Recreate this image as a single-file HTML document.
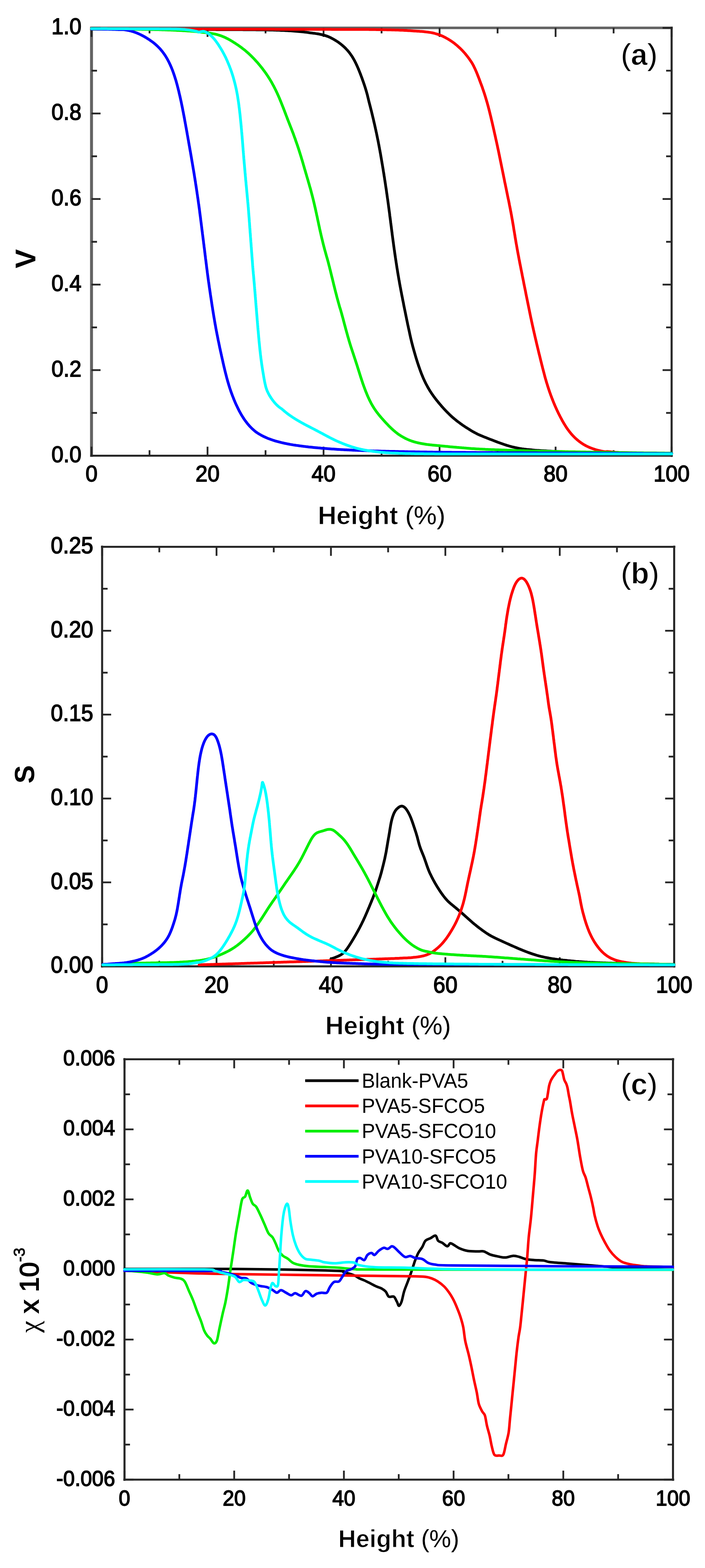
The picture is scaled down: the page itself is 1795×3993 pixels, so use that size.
<!DOCTYPE html>
<html><head><meta charset="utf-8"><style>
html,body{margin:0;padding:0;background:#fff;width:1795px;height:3993px;overflow:hidden}
svg{display:block}
.t{font-family:"Liberation Sans",Arial,sans-serif;font-weight:bold;fill:#000}
.d{font-family:"Liberation Sans",Arial,sans-serif;fill:#000;stroke:#000;stroke-width:2px}
.r{font-family:"Liberation Sans",Arial,sans-serif;fill:#000}
</style></head><body>
<svg width="1795" height="3993" viewBox="0 0 1795 3993">
<rect width="1795" height="3993" fill="#fff"/>
<path d="M233 68V1163.5" stroke="#636363" stroke-width="7.5"/>
<path d="M230 71H1713" stroke="#636363" stroke-width="6.5"/>
<path d="M1710 68V1163.5" stroke="#262626" stroke-width="5.2"/>
<path d="M230 1160.5H1713" stroke="#262626" stroke-width="5.2"/>
<path d="M233.0 1160.5v-23M233.0 71v23M380.7 1160.5v-14M380.7 71v14M528.4 1160.5v-23M528.4 71v23M676.1 1160.5v-14M676.1 71v14M823.8 1160.5v-23M823.8 71v23M971.5 1160.5v-14M971.5 71v14M1119.2 1160.5v-23M1119.2 71v23M1266.9 1160.5v-14M1266.9 71v14M1414.6 1160.5v-23M1414.6 71v23M1562.3 1160.5v-14M1562.3 71v14M1710.0 1160.5v-23M1710.0 71v23M233 1160.5h23M1710 1160.5h-23M233 942.6h23M1710 942.6h-23M233 724.7h23M1710 724.7h-23M233 506.8h23M1710 506.8h-23M233 288.9h23M1710 288.9h-23M233 71.0h23M1710 71.0h-23M233 1051.5h14M1710 1051.5h-14M233 833.7h14M1710 833.7h-14M233 615.8h14M1710 615.8h-14M233 397.9h14M1710 397.9h-14M233 179.9h14M1710 179.9h-14" stroke="#262626" stroke-width="4.5" fill="none"/>
<text transform="translate(207.5,1176.5) scale(0.95,1)" text-anchor="end" class="d" font-size="58">0.0</text>
<text transform="translate(207.5,958.6) scale(0.95,1)" text-anchor="end" class="d" font-size="58">0.2</text>
<text transform="translate(207.5,740.7) scale(0.95,1)" text-anchor="end" class="d" font-size="58">0.4</text>
<text transform="translate(207.5,522.8) scale(0.95,1)" text-anchor="end" class="d" font-size="58">0.6</text>
<text transform="translate(207.5,304.9) scale(0.95,1)" text-anchor="end" class="d" font-size="58">0.8</text>
<text transform="translate(207.5,87.0) scale(0.95,1)" text-anchor="end" class="d" font-size="58">1.0</text>
<text transform="translate(233.0,1226) scale(0.95,1)" text-anchor="middle" class="d" font-size="58">0</text>
<text transform="translate(528.4,1226) scale(0.95,1)" text-anchor="middle" class="d" font-size="58">20</text>
<text transform="translate(823.8,1226) scale(0.95,1)" text-anchor="middle" class="d" font-size="58">40</text>
<text transform="translate(1119.2,1226) scale(0.95,1)" text-anchor="middle" class="d" font-size="58">60</text>
<text transform="translate(1414.6,1226) scale(0.95,1)" text-anchor="middle" class="d" font-size="58">80</text>
<text transform="translate(1710.0,1226) scale(0.95,1)" text-anchor="middle" class="d" font-size="58">100</text>
<text x="971.5" y="1335" text-anchor="middle" class="t" font-size="65.7" stroke="#fff" stroke-width="1.2">Height<tspan font-weight="normal" stroke-width="0"> (%)</tspan></text>
<path d="M260 1389.5V2463.8" stroke="#262626" stroke-width="5.2"/>
<path d="M257 1392.5H1719.5" stroke="#262626" stroke-width="5.2"/>
<path d="M1716.5 1389.5V2463.8" stroke="#262626" stroke-width="5.2"/>
<path d="M257 2460.8H1719.5" stroke="#262626" stroke-width="5.2"/>
<path d="M260.0 2460.8v-23M260.0 1392.5v23M405.6 2460.8v-14M405.6 1392.5v14M551.3 2460.8v-23M551.3 1392.5v23M697.0 2460.8v-14M697.0 1392.5v14M842.6 2460.8v-23M842.6 1392.5v23M988.2 2460.8v-14M988.2 1392.5v14M1133.9 2460.8v-23M1133.9 1392.5v23M1279.5 2460.8v-14M1279.5 1392.5v14M1425.2 2460.8v-23M1425.2 1392.5v23M1570.8 2460.8v-14M1570.8 1392.5v14M1716.5 2460.8v-23M1716.5 1392.5v23M260 2460.8h23M1716.5 2460.8h-23M260 2247.1h23M1716.5 2247.1h-23M260 2033.5h23M1716.5 2033.5h-23M260 1819.8h23M1716.5 1819.8h-23M260 1606.2h23M1716.5 1606.2h-23M260 1392.5h23M1716.5 1392.5h-23M260 2354.0h14M1716.5 2354.0h-14M260 2140.3h14M1716.5 2140.3h-14M260 1926.7h14M1716.5 1926.7h-14M260 1713.0h14M1716.5 1713.0h-14M260 1499.3h14M1716.5 1499.3h-14" stroke="#262626" stroke-width="4.5" fill="none"/>
<text transform="translate(237.5,2477.3) scale(0.95,1)" text-anchor="end" class="d" font-size="58.5">0.00</text>
<text transform="translate(237.5,2263.6) scale(0.95,1)" text-anchor="end" class="d" font-size="58.5">0.05</text>
<text transform="translate(237.5,2050.0) scale(0.95,1)" text-anchor="end" class="d" font-size="58.5">0.10</text>
<text transform="translate(237.5,1836.3) scale(0.95,1)" text-anchor="end" class="d" font-size="58.5">0.15</text>
<text transform="translate(237.5,1622.7) scale(0.95,1)" text-anchor="end" class="d" font-size="58.5">0.20</text>
<text transform="translate(237.5,1409.0) scale(0.95,1)" text-anchor="end" class="d" font-size="58.5">0.25</text>
<text transform="translate(260.0,2528) scale(0.95,1)" text-anchor="middle" class="d" font-size="58.5">0</text>
<text transform="translate(551.3,2528) scale(0.95,1)" text-anchor="middle" class="d" font-size="58.5">20</text>
<text transform="translate(842.6,2528) scale(0.95,1)" text-anchor="middle" class="d" font-size="58.5">40</text>
<text transform="translate(1133.9,2528) scale(0.95,1)" text-anchor="middle" class="d" font-size="58.5">60</text>
<text transform="translate(1425.2,2528) scale(0.95,1)" text-anchor="middle" class="d" font-size="58.5">80</text>
<text transform="translate(1716.5,2528) scale(0.95,1)" text-anchor="middle" class="d" font-size="58.5">100</text>
<text x="988.2" y="2634" text-anchor="middle" class="t" font-size="64.7" stroke="#fff" stroke-width="1.2">Height<tspan font-weight="normal" stroke-width="0"> (%)</tspan></text>
<path d="M317 2694.5V3771" stroke="#262626" stroke-width="5.2"/>
<path d="M314 2697.5H1716.5" stroke="#262626" stroke-width="5.2"/>
<path d="M1713.5 2694.5V3771" stroke="#262626" stroke-width="5.2"/>
<path d="M314 3768H1716.5" stroke="#262626" stroke-width="5.2"/>
<path d="M317.0 3768v-23M317.0 2697.5v23M456.6 3768v-14M456.6 2697.5v14M596.3 3768v-23M596.3 2697.5v23M736.0 3768v-14M736.0 2697.5v14M875.6 3768v-23M875.6 2697.5v23M1015.2 3768v-14M1015.2 2697.5v14M1154.9 3768v-23M1154.9 2697.5v23M1294.5 3768v-14M1294.5 2697.5v14M1434.2 3768v-23M1434.2 2697.5v23M1573.8 3768v-14M1573.8 2697.5v14M1713.5 3768v-23M1713.5 2697.5v23M317 3768.0h23M1713.5 3768.0h-23M317 3589.6h23M1713.5 3589.6h-23M317 3411.2h23M1713.5 3411.2h-23M317 3232.8h23M1713.5 3232.8h-23M317 3054.3h23M1713.5 3054.3h-23M317 2875.9h23M1713.5 2875.9h-23M317 2697.5h23M1713.5 2697.5h-23M317 3678.8h14M1713.5 3678.8h-14M317 3500.4h14M1713.5 3500.4h-14M317 3322.0h14M1713.5 3322.0h-14M317 3143.5h14M1713.5 3143.5h-14M317 2965.1h14M1713.5 2965.1h-14M317 2786.7h14M1713.5 2786.7h-14" stroke="#262626" stroke-width="4.5" fill="none"/>
<text transform="translate(293,3783.5) scale(0.95,1)" text-anchor="end" class="d" font-size="55.5">-0.006</text>
<text transform="translate(293,3605.1) scale(0.95,1)" text-anchor="end" class="d" font-size="55.5">-0.004</text>
<text transform="translate(293,3426.7) scale(0.95,1)" text-anchor="end" class="d" font-size="55.5">-0.002</text>
<text transform="translate(293,3248.2) scale(0.95,1)" text-anchor="end" class="d" font-size="55.5">0.000</text>
<text transform="translate(293,3069.8) scale(0.95,1)" text-anchor="end" class="d" font-size="55.5">0.002</text>
<text transform="translate(293,2891.4) scale(0.95,1)" text-anchor="end" class="d" font-size="55.5">0.004</text>
<text transform="translate(293,2713.0) scale(0.95,1)" text-anchor="end" class="d" font-size="55.5">0.006</text>
<text transform="translate(317.0,3834) scale(0.95,1)" text-anchor="middle" class="d" font-size="55.5">0</text>
<text transform="translate(596.3,3834) scale(0.95,1)" text-anchor="middle" class="d" font-size="55.5">20</text>
<text transform="translate(875.6,3834) scale(0.95,1)" text-anchor="middle" class="d" font-size="55.5">40</text>
<text transform="translate(1154.9,3834) scale(0.95,1)" text-anchor="middle" class="d" font-size="55.5">60</text>
<text transform="translate(1434.2,3834) scale(0.95,1)" text-anchor="middle" class="d" font-size="55.5">80</text>
<text transform="translate(1713.5,3834) scale(0.95,1)" text-anchor="middle" class="d" font-size="55.5">100</text>
<text x="1015.2" y="3940" text-anchor="middle" class="t" font-size="62.3" stroke="#fff" stroke-width="1.2">Height<tspan font-weight="normal" stroke-width="0"> (%)</tspan></text>
<path d="M233.0 74.0 236.0 74.0 239.0 74.0 242.0 74.0 245.0 74.1 248.0 74.1 251.0 74.1 254.0 74.1 257.0 74.1 260.0 74.1 263.0 74.1 266.0 74.1 269.0 74.2 272.0 74.2 275.0 74.2 278.0 74.2 281.0 74.2 284.0 74.2 287.0 74.2 290.0 74.2 293.0 74.3 296.0 74.3 299.0 74.3 302.0 74.3 305.0 74.3 308.0 74.3 311.0 74.3 314.0 74.3 317.0 74.4 320.0 74.4 323.0 74.4 326.0 74.4 329.0 74.4 332.0 74.4 335.0 74.4 338.0 74.4 341.0 74.5 344.0 74.5 347.0 74.5 350.0 74.5 353.0 74.5 356.0 74.5 359.0 74.5 362.0 74.6 365.0 74.6 368.0 74.6 371.0 74.6 374.0 74.6 377.0 74.6 380.0 74.6 383.0 74.6 386.0 74.7 389.0 74.7 392.0 74.7 395.0 74.7 398.0 74.7 401.0 74.7 404.0 74.7 407.0 74.7 410.0 74.8 413.0 74.8 416.0 74.8 419.0 74.8 422.0 74.8 425.0 74.8 428.0 74.8 431.0 74.8 434.0 74.9 437.0 74.9 440.0 74.9 443.0 74.9 446.0 74.9 449.0 74.9 452.0 74.9 455.0 75.0 458.0 75.0 461.0 75.0 464.0 75.0 467.0 75.0 470.0 75.0 473.0 75.0 476.0 75.0 479.0 75.1 482.0 75.1 485.0 75.1 488.0 75.1 491.0 75.1 494.0 75.1 497.0 75.1 500.0 75.1 503.0 75.2 506.0 75.2 509.0 75.2 512.0 75.2 515.0 75.2 518.0 75.2 521.0 75.2 524.0 75.2 527.0 75.3 530.0 75.3 533.0 75.3 536.0 75.3 539.0 75.3 542.0 75.3 545.0 75.3 548.0 75.3 551.0 75.4 554.0 75.4 557.0 75.4 560.0 75.4 563.0 75.4 566.0 75.4 569.0 75.4 572.0 75.5 575.0 75.5 578.0 75.5 581.0 75.5 584.0 75.5 587.0 75.5 590.0 75.5 593.0 75.5 596.0 75.6 599.0 75.6 602.0 75.6 605.0 75.6 608.0 75.6 611.0 75.6 614.0 75.6 617.0 75.6 620.0 75.7 623.0 75.7 626.0 75.7 629.0 75.7 632.0 75.7 635.0 75.7 638.0 75.8 641.0 75.8 644.0 75.8 647.0 75.8 650.0 75.8 653.0 75.9 656.0 75.9 659.0 75.9 662.0 76.0 665.0 76.0 668.0 76.0 671.0 76.1 674.0 76.1 677.0 76.2 680.0 76.2 683.0 76.3 686.0 76.4 689.0 76.4 692.0 76.5 695.0 76.6 698.0 76.7 701.0 76.8 704.0 76.9 707.0 77.0 710.0 77.1 713.0 77.2 716.0 77.4 718.9 77.5 721.9 77.6 724.9 77.8 727.9 77.9 730.9 78.1 733.9 78.3 736.9 78.4 739.9 78.6 742.9 78.8 745.9 79.0 748.9 79.2 751.9 79.4 754.8 79.7 757.8 79.9 760.8 80.2 763.8 80.4 766.8 80.7 769.7 81.0 772.7 81.3 775.7 81.7 778.6 82.0 781.6 82.4 784.5 82.8 787.5 83.3 790.4 83.7 793.4 84.0 796.3 84.4 799.3 84.7 802.3 85.1 805.2 85.6 808.2 86.0 811.1 86.5 814.0 87.1 816.9 87.7 819.8 88.3 822.7 89.0 825.6 89.8 828.4 90.7 831.2 91.6 834.0 92.6 836.8 93.7 839.5 94.9 842.2 96.2 844.8 97.6 847.5 99.0 850.1 100.4 852.6 101.9 855.2 103.5 857.7 105.1 860.1 106.7 862.6 108.4 865.0 110.2 867.3 112.0 869.6 113.9 871.9 115.8 874.1 117.7 876.3 119.7 878.5 121.7 880.6 123.8 882.6 126.0 884.6 128.2 886.6 130.4 888.5 132.7 890.3 135.1 892.1 137.5 893.8 139.9 895.5 142.4 897.1 144.9 898.6 147.4 900.1 150.0 901.6 152.6 903.0 155.2 904.4 157.9 905.7 160.6 907.0 163.3 908.3 166.0 909.5 168.7 910.7 171.4 911.9 174.2 913.1 177.0 914.2 179.7 915.3 182.5 916.4 185.3 917.5 188.1 918.6 190.9 919.6 193.7 920.7 196.5 921.7 199.3 922.7 202.2 923.7 205.0 924.7 207.8 925.7 210.6 926.7 213.5 927.6 216.3 928.6 219.2 929.5 222.0 930.4 224.9 931.3 227.7 932.1 230.6 933.0 233.5 933.8 236.4 934.6 239.3 935.4 242.1 936.1 245.1 936.8 248.0 937.5 250.9 938.2 253.8 938.9 256.7 939.6 259.7 940.4 262.6 941.1 265.5 941.9 268.4 942.6 271.3 943.4 274.2 944.1 277.1 944.8 280.0 945.6 282.9 946.3 285.8 947.0 288.7 947.7 291.6 948.4 294.5 949.1 297.5 949.8 300.4 950.5 303.3 951.2 306.2 951.8 309.1 952.5 312.1 953.2 315.0 953.9 317.9 954.5 320.8 955.2 323.8 955.8 326.7 956.5 329.6 957.1 332.6 957.7 335.5 958.4 338.4 959.0 341.4 959.6 344.3 960.2 347.2 960.8 350.2 961.4 353.1 962.0 356.0 962.6 359.0 963.2 361.9 963.7 364.9 964.3 367.8 964.9 370.8 965.4 373.7 966.0 376.7 966.5 379.6 967.1 382.6 967.6 385.5 968.1 388.5 968.7 391.4 969.2 394.4 969.7 397.3 970.2 400.3 970.7 403.2 971.2 406.2 971.7 409.1 972.2 412.1 972.7 415.1 973.2 418.0 973.7 421.0 974.2 423.9 974.7 426.9 975.2 429.9 975.7 432.8 976.1 435.8 976.6 438.7 977.1 441.7 977.6 444.7 978.0 447.6 978.5 450.6 979.0 453.6 979.4 456.5 979.9 459.5 980.3 462.4 980.8 465.4 981.2 468.4 981.7 471.3 982.1 474.3 982.6 477.3 983.0 480.2 983.5 483.2 983.9 486.2 984.3 489.1 984.7 492.1 985.2 495.1 985.6 498.1 986.0 501.0 986.4 504.0 986.9 507.0 987.3 509.9 987.7 512.9 988.1 515.9 988.5 518.9 988.9 521.8 989.3 524.8 989.7 527.8 990.1 530.7 990.5 533.7 990.9 536.7 991.3 539.7 991.7 542.6 992.1 545.6 992.4 548.6 992.8 551.6 993.2 554.5 993.6 557.5 994.0 560.5 994.4 563.5 994.7 566.4 995.1 569.4 995.5 572.4 995.9 575.4 996.3 578.3 996.6 581.3 997.0 584.3 997.4 587.3 997.8 590.2 998.2 593.2 998.5 596.2 998.9 599.2 999.3 602.1 999.7 605.1 1000.1 608.1 1000.5 611.1 1000.9 614.0 1001.3 617.0 1001.7 620.0 1002.1 623.0 1002.5 625.9 1002.9 628.9 1003.3 631.9 1003.7 634.8 1004.2 637.8 1004.6 640.8 1005.0 643.8 1005.4 646.7 1005.9 649.7 1006.3 652.7 1006.7 655.6 1007.2 658.6 1007.6 661.6 1008.1 664.5 1008.5 667.5 1009.0 670.5 1009.4 673.4 1009.9 676.4 1010.3 679.4 1010.8 682.3 1011.3 685.3 1011.8 688.2 1012.2 691.2 1012.7 694.2 1013.2 697.1 1013.7 700.1 1014.2 703.0 1014.7 706.0 1015.2 708.9 1015.7 711.9 1016.3 714.9 1016.8 717.8 1017.3 720.8 1017.8 723.7 1018.4 726.7 1018.9 729.6 1019.5 732.6 1020.0 735.5 1020.6 738.5 1021.1 741.4 1021.7 744.4 1022.3 747.3 1022.8 750.2 1023.4 753.2 1024.0 756.1 1024.6 759.1 1025.1 762.0 1025.7 765.0 1026.3 767.9 1026.9 770.8 1027.5 773.8 1028.0 776.7 1028.6 779.7 1029.2 782.6 1029.8 785.6 1030.4 788.5 1031.0 791.4 1031.6 794.4 1032.2 797.3 1032.8 800.3 1033.4 803.2 1034.0 806.1 1034.6 809.1 1035.2 812.0 1035.8 815.0 1036.4 817.9 1037.0 820.8 1037.6 823.8 1038.2 826.7 1038.9 829.6 1039.5 832.6 1040.1 835.5 1040.8 838.4 1041.4 841.4 1042.1 844.3 1042.7 847.2 1043.3 850.1 1043.9 853.1 1044.6 856.0 1045.2 858.9 1045.9 861.9 1046.6 864.8 1047.3 867.7 1048.0 870.6 1048.7 873.5 1049.5 876.4 1050.2 879.3 1051.0 882.2 1051.8 885.1 1052.6 888.0 1053.4 890.9 1054.2 893.8 1055.0 896.6 1055.9 899.5 1056.7 902.4 1057.5 905.3 1058.4 908.1 1059.2 911.0 1060.1 913.9 1061.0 916.7 1061.9 919.6 1062.8 922.5 1063.7 925.3 1064.7 928.1 1065.6 931.0 1066.6 933.8 1067.6 936.6 1068.6 939.4 1069.6 942.3 1070.6 945.1 1071.7 947.9 1072.7 950.7 1073.8 953.4 1074.9 956.2 1076.1 959.0 1077.2 961.7 1078.4 964.5 1079.7 967.2 1080.9 969.9 1082.2 972.6 1083.5 975.3 1084.9 978.0 1086.3 980.6 1087.7 983.2 1089.1 985.9 1090.6 988.4 1092.1 991.0 1093.7 993.6 1095.2 996.1 1096.9 998.6 1098.5 1001.1 1100.2 1003.6 1101.9 1006.0 1103.6 1008.4 1105.3 1010.9 1107.1 1013.2 1108.9 1015.6 1110.8 1018.0 1112.6 1020.3 1114.5 1022.6 1116.4 1025.0 1118.3 1027.3 1120.2 1029.5 1122.2 1031.8 1124.1 1034.1 1126.1 1036.3 1128.1 1038.5 1130.1 1040.8 1132.1 1042.9 1134.2 1045.1 1136.3 1047.3 1138.3 1049.4 1140.5 1051.5 1142.6 1053.6 1144.7 1055.7 1146.9 1057.8 1149.1 1059.8 1151.3 1061.8 1153.5 1063.8 1155.8 1065.7 1158.1 1067.6 1160.4 1069.5 1162.8 1071.4 1165.1 1073.2 1167.5 1075.0 1169.9 1076.8 1172.3 1078.6 1174.8 1080.3 1177.2 1082.1 1179.7 1083.8 1182.1 1085.4 1184.6 1087.1 1187.1 1088.7 1189.7 1090.3 1192.2 1091.9 1194.7 1093.5 1197.3 1095.1 1199.8 1096.7 1202.4 1098.2 1205.0 1099.7 1207.6 1101.1 1210.3 1102.5 1212.9 1103.9 1215.6 1105.3 1218.3 1106.6 1221.0 1107.8 1223.7 1109.0 1226.5 1110.1 1229.3 1111.2 1232.1 1112.4 1234.9 1113.5 1237.6 1114.6 1240.4 1115.7 1243.2 1116.8 1246.0 1117.9 1248.8 1119.0 1251.6 1120.0 1254.4 1121.1 1257.2 1122.2 1260.0 1123.3 1262.8 1124.4 1265.6 1125.4 1268.4 1126.5 1271.2 1127.5 1274.0 1128.5 1276.9 1129.5 1279.7 1130.5 1282.5 1131.5 1285.4 1132.5 1288.2 1133.4 1291.1 1134.3 1293.9 1135.1 1296.8 1136.0 1299.7 1136.8 1302.6 1137.6 1305.5 1138.3 1308.4 1139.0 1311.3 1139.7 1314.2 1140.3 1317.2 1140.9 1320.1 1141.5 1323.1 1142.0 1326.0 1142.4 1329.0 1142.9 1331.9 1143.3 1334.9 1143.7 1337.9 1144.0 1340.9 1144.4 1343.8 1144.7 1346.8 1145.0 1349.8 1145.3 1352.8 1145.6 1355.8 1145.9 1358.8 1146.2 1361.8 1146.5 1364.7 1146.7 1367.7 1146.9 1370.7 1147.1 1373.7 1147.3 1376.7 1147.5 1379.7 1147.7 1382.7 1147.8 1385.7 1147.9 1388.7 1148.1 1391.7 1148.3 1394.7 1148.5 1397.7 1148.7 1400.7 1148.8 1403.7 1149.0 1406.7 1149.2 1409.6 1149.3 1412.6 1149.5 1415.6 1149.6 1418.6 1149.8 1421.6 1149.9 1424.6 1150.1 1427.6 1150.2 1430.6 1150.3 1433.6 1150.4 1436.6 1150.6 1439.6 1150.7 1442.6 1150.8 1445.6 1150.9 1448.6 1151.0 1451.6 1151.2 1454.6 1151.3 1457.6 1151.4 1460.6 1151.5 1463.6 1151.6 1466.6 1151.7 1469.6 1151.8 1472.6 1151.9 1475.6 1152.0 1478.6 1152.1 1481.6 1152.1 1484.6 1152.2 1487.6 1152.3 1490.6 1152.4 1493.6 1152.5 1496.6 1152.5 1499.6 1152.6 1502.6 1152.7 1505.6 1152.7 1508.6 1152.8 1511.6 1152.9 1514.6 1152.9 1517.6 1153.0 1520.6 1153.0 1523.6 1153.1 1526.6 1153.1 1529.6 1153.2 1532.6 1153.2 1535.6 1153.3 1538.6 1153.3 1541.6 1153.3 1544.6 1153.4 1547.6 1153.4 1550.6 1153.5 1553.6 1153.5 1556.6 1153.5 1559.6 1153.6 1562.6 1153.6 1565.6 1153.6 1568.6 1153.6 1571.6 1153.7 1574.6 1153.7 1577.6 1153.7 1580.6 1153.8 1583.6 1153.8 1586.6 1153.8 1589.6 1153.9 1592.6 1153.9 1595.6 1153.9 1598.6 1153.9 1601.6 1154.0 1604.6 1154.0 1607.6 1154.0 1610.6 1154.1 1613.6 1154.1 1616.6 1154.1 1619.6 1154.1 1622.6 1154.2 1625.5 1154.2 1628.5 1154.2 1631.5 1154.3 1634.5 1154.3 1637.5 1154.3 1640.5 1154.3 1643.5 1154.4 1646.5 1154.4 1649.5 1154.4 1652.5 1154.5 1655.4 1154.5 1658.4 1154.5 1661.4 1154.5 1664.4 1154.6 1667.3 1154.6 1670.3 1154.6 1673.3 1154.7 1676.2 1154.7 1679.2 1154.7 1682.1 1154.7 1685.1 1154.8 1688.0 1154.8 1690.9 1154.8 1693.9 1154.8 1696.8 1154.9 1699.8 1154.9 1702.7 1154.9 1705.6 1155.0 1708.5 1155.0 1710.0 1155.0" fill="none" stroke="#000000" stroke-width="7" stroke-linejoin="round" stroke-linecap="round"/>
<path d="M233.0 74.0 236.0 74.0 239.0 74.0 242.0 74.0 245.0 74.0 248.0 74.0 251.0 74.0 254.0 74.0 257.0 74.0 260.0 74.0 263.0 74.0 266.0 74.0 269.0 74.1 272.0 74.1 275.0 74.1 278.0 74.1 281.0 74.1 284.0 74.1 287.0 74.1 290.0 74.1 293.0 74.1 296.0 74.1 299.0 74.1 302.0 74.1 305.0 74.1 308.0 74.1 311.0 74.1 314.0 74.1 317.0 74.1 320.0 74.1 323.0 74.1 326.0 74.1 329.0 74.1 332.0 74.1 335.0 74.1 338.0 74.1 341.0 74.2 344.0 74.2 347.0 74.2 350.0 74.2 353.0 74.2 356.0 74.2 359.0 74.2 362.0 74.2 365.0 74.2 368.0 74.2 371.0 74.2 374.0 74.2 377.0 74.2 380.0 74.2 383.0 74.2 386.0 74.2 389.0 74.2 392.0 74.2 395.0 74.2 398.0 74.2 401.0 74.2 404.0 74.2 407.0 74.2 410.0 74.2 413.0 74.3 416.0 74.3 419.0 74.3 422.0 74.3 425.0 74.3 428.0 74.3 431.0 74.3 434.0 74.3 437.0 74.3 440.0 74.3 443.0 74.3 446.0 74.3 449.0 74.3 452.0 74.3 455.0 74.3 458.0 74.3 461.0 74.3 464.0 74.3 467.0 74.3 470.0 74.3 473.0 74.3 476.0 74.3 479.0 74.3 482.0 74.3 485.0 74.4 488.0 74.4 491.0 74.4 494.0 74.4 497.0 74.4 500.0 74.4 503.0 74.4 506.0 74.4 509.0 74.4 512.0 74.4 515.0 74.4 518.0 74.4 521.0 74.4 524.0 74.4 527.0 74.4 530.0 74.4 533.0 74.4 536.0 74.4 539.0 74.4 542.0 74.4 545.0 74.4 548.0 74.4 551.0 74.4 554.0 74.4 557.0 74.5 560.0 74.5 563.0 74.5 566.0 74.5 569.0 74.5 572.0 74.5 575.0 74.5 578.0 74.5 581.0 74.5 584.0 74.5 587.0 74.5 590.0 74.5 593.0 74.5 596.0 74.5 599.0 74.5 602.0 74.5 605.0 74.5 608.0 74.5 611.0 74.5 614.0 74.5 617.0 74.5 620.0 74.5 623.0 74.5 626.0 74.5 629.0 74.6 632.0 74.6 635.0 74.6 638.0 74.6 641.0 74.6 644.0 74.6 647.0 74.6 650.0 74.6 653.0 74.6 656.0 74.6 659.0 74.6 662.0 74.6 665.0 74.6 668.0 74.6 671.0 74.6 674.0 74.6 677.0 74.6 680.0 74.6 683.0 74.6 686.0 74.6 689.0 74.6 692.0 74.6 695.0 74.6 698.0 74.6 701.0 74.7 704.0 74.7 707.0 74.7 710.0 74.7 713.0 74.7 716.0 74.7 719.0 74.7 722.0 74.7 725.0 74.7 728.0 74.7 731.0 74.7 734.0 74.7 737.0 74.7 740.0 74.7 743.0 74.7 746.0 74.7 749.0 74.7 752.0 74.7 755.0 74.7 758.0 74.7 761.0 74.7 764.0 74.7 767.0 74.7 770.0 74.7 773.0 74.8 776.0 74.8 779.0 74.8 782.0 74.8 785.0 74.8 788.0 74.8 791.0 74.8 794.0 74.8 797.0 74.8 800.0 74.8 803.0 74.8 806.0 74.8 809.0 74.8 812.0 74.8 815.0 74.8 818.0 74.8 821.0 74.8 824.0 74.8 827.0 74.8 830.0 74.8 833.0 74.8 836.0 74.8 839.0 74.8 842.0 74.8 845.0 74.9 848.0 74.9 851.0 74.9 854.0 74.9 857.0 74.9 860.0 74.9 863.0 74.9 866.0 74.9 869.0 74.9 872.0 74.9 875.0 74.9 878.0 74.9 881.0 74.9 884.0 74.9 887.0 74.9 890.0 74.9 893.0 74.9 896.0 74.9 899.0 74.9 902.0 75.0 905.0 75.0 908.0 75.0 911.0 75.0 914.0 75.0 917.0 75.0 920.0 75.0 923.0 75.0 926.0 75.1 929.0 75.1 932.0 75.1 935.0 75.1 938.0 75.1 941.0 75.2 944.0 75.2 947.0 75.2 950.0 75.3 953.0 75.3 956.0 75.3 959.0 75.4 962.0 75.4 965.0 75.5 968.0 75.5 971.0 75.6 974.0 75.6 977.0 75.7 980.0 75.7 983.0 75.8 986.0 75.9 989.0 75.9 992.0 76.0 995.0 76.1 998.0 76.2 1001.0 76.3 1004.0 76.3 1007.0 76.4 1010.0 76.5 1013.0 76.6 1016.0 76.7 1019.0 76.9 1022.0 77.0 1025.0 77.1 1027.9 77.2 1030.9 77.4 1033.9 77.5 1036.9 77.7 1039.9 77.9 1042.9 78.1 1045.9 78.3 1048.9 78.5 1051.9 78.7 1054.9 78.9 1057.8 79.1 1060.8 79.2 1063.8 79.4 1066.8 79.6 1069.8 79.9 1072.8 80.1 1075.8 80.3 1078.8 80.6 1081.7 80.9 1084.7 81.3 1087.7 81.6 1090.7 82.0 1093.6 82.4 1096.6 82.9 1099.5 83.4 1102.4 84.0 1105.3 84.7 1108.2 85.5 1111.1 86.3 1113.9 87.1 1116.7 88.1 1119.5 89.1 1122.3 90.2 1125.0 91.3 1127.7 92.5 1130.3 93.8 1133.0 95.2 1135.6 96.6 1138.1 98.0 1140.7 99.5 1143.2 101.0 1145.7 102.6 1148.2 104.2 1150.7 105.9 1153.1 107.6 1155.5 109.3 1157.8 111.1 1160.1 113.0 1162.4 114.9 1164.7 116.8 1166.9 118.8 1169.1 120.8 1171.3 122.8 1173.4 124.9 1175.5 127.0 1177.6 129.2 1179.6 131.3 1181.6 133.5 1183.6 135.8 1185.5 138.1 1187.4 140.4 1189.2 142.7 1191.1 145.1 1192.9 147.4 1194.6 149.8 1196.3 152.3 1198.0 154.7 1199.7 157.2 1201.3 159.7 1202.9 162.3 1204.3 164.9 1205.7 167.5 1207.0 170.2 1208.3 172.9 1209.6 175.6 1210.8 178.3 1212.0 181.1 1213.2 183.8 1214.3 186.6 1215.4 189.3 1216.5 192.1 1217.6 194.9 1218.7 197.7 1219.8 200.5 1220.8 203.3 1221.8 206.1 1222.9 208.9 1223.9 211.7 1225.0 214.5 1226.0 217.3 1227.1 220.1 1228.1 222.9 1229.0 225.7 1230.0 228.6 1231.0 231.4 1231.9 234.2 1232.9 237.1 1233.8 239.9 1234.7 242.8 1235.6 245.6 1236.5 248.5 1237.3 251.4 1238.2 254.2 1239.0 257.1 1239.9 260.0 1240.7 262.9 1241.5 265.7 1242.3 268.6 1243.1 271.5 1243.8 274.4 1244.6 277.3 1245.3 280.2 1246.1 283.1 1246.8 286.0 1247.5 288.9 1248.2 291.8 1249.0 294.8 1249.7 297.7 1250.3 300.6 1251.0 303.5 1251.7 306.4 1252.4 309.3 1253.1 312.3 1253.8 315.2 1254.4 318.1 1255.1 321.0 1255.8 324.0 1256.4 326.9 1257.1 329.8 1257.8 332.7 1258.4 335.7 1259.1 338.6 1259.7 341.5 1260.4 344.4 1261.0 347.4 1261.7 350.3 1262.3 353.2 1263.0 356.2 1263.6 359.1 1264.3 362.0 1264.9 364.9 1265.5 367.9 1266.2 370.8 1266.8 373.7 1267.4 376.7 1268.0 379.6 1268.7 382.5 1269.3 385.5 1269.9 388.4 1270.5 391.4 1271.1 394.3 1271.7 397.2 1272.3 400.2 1272.9 403.1 1273.5 406.0 1274.1 409.0 1274.7 411.9 1275.3 414.9 1275.9 417.8 1276.5 420.7 1277.1 423.7 1277.7 426.6 1278.3 429.6 1278.9 432.5 1279.5 435.4 1280.1 438.4 1280.7 441.3 1281.3 444.3 1281.9 447.2 1282.5 450.2 1283.1 453.1 1283.7 456.0 1284.3 459.0 1284.8 461.9 1285.4 464.8 1286.1 467.8 1286.7 470.7 1287.3 473.7 1287.9 476.6 1288.5 479.5 1289.1 482.5 1289.7 485.4 1290.3 488.4 1290.9 491.3 1291.5 494.2 1292.1 497.2 1292.7 500.1 1293.3 503.0 1293.9 506.0 1294.6 508.9 1295.2 511.8 1295.8 514.8 1296.4 517.7 1296.9 520.7 1297.5 523.6 1298.1 526.5 1298.7 529.5 1299.3 532.4 1299.8 535.4 1300.4 538.3 1301.0 541.3 1301.5 544.2 1302.1 547.2 1302.6 550.1 1303.1 553.1 1303.6 556.0 1304.2 559.0 1304.7 561.9 1305.2 564.9 1305.7 567.8 1306.2 570.8 1306.7 573.7 1307.2 576.7 1307.7 579.7 1308.1 582.6 1308.6 585.6 1309.1 588.5 1309.6 591.5 1310.1 594.5 1310.6 597.4 1311.1 600.4 1311.5 603.3 1312.0 606.3 1312.5 609.2 1313.0 612.2 1313.5 615.2 1314.0 618.1 1314.5 621.1 1315.1 624.0 1315.6 627.0 1316.1 629.9 1316.6 632.9 1317.1 635.8 1317.7 638.8 1318.2 641.7 1318.8 644.7 1319.3 647.6 1319.9 650.6 1320.4 653.5 1321.0 656.5 1321.5 659.4 1322.1 662.4 1322.7 665.3 1323.2 668.3 1323.8 671.2 1324.4 674.2 1325.0 677.1 1325.6 680.0 1326.1 683.0 1326.7 685.9 1327.3 688.9 1327.9 691.8 1328.5 694.8 1329.1 697.7 1329.6 700.6 1330.2 703.6 1330.8 706.5 1331.4 709.5 1332.0 712.4 1332.6 715.4 1333.2 718.3 1333.7 721.2 1334.3 724.2 1334.9 727.1 1335.5 730.1 1336.1 733.0 1336.7 735.9 1337.3 738.9 1337.9 741.8 1338.5 744.8 1339.0 747.7 1339.6 750.7 1340.2 753.6 1340.8 756.5 1341.4 759.5 1342.0 762.4 1342.6 765.4 1343.2 768.3 1343.8 771.2 1344.4 774.2 1345.0 777.1 1345.6 780.1 1346.2 783.0 1346.8 785.9 1347.4 788.9 1348.0 791.8 1348.6 794.8 1349.2 797.7 1349.8 800.6 1350.4 803.6 1351.0 806.5 1351.6 809.4 1352.3 812.4 1352.9 815.3 1353.5 818.2 1354.2 821.2 1354.8 824.1 1355.4 827.0 1356.1 830.0 1356.7 832.9 1357.4 835.8 1358.0 838.7 1358.7 841.7 1359.4 844.6 1360.0 847.5 1360.7 850.4 1361.4 853.4 1362.0 856.3 1362.7 859.2 1363.4 862.1 1364.1 865.1 1364.8 868.0 1365.4 870.9 1366.1 873.8 1366.8 876.7 1367.5 879.6 1368.2 882.6 1368.9 885.5 1369.6 888.4 1370.3 891.3 1371.0 894.2 1371.7 897.1 1372.4 900.1 1373.1 903.0 1373.9 905.9 1374.6 908.8 1375.3 911.7 1376.0 914.6 1376.7 917.5 1377.4 920.5 1378.2 923.4 1378.9 926.3 1379.6 929.2 1380.4 932.1 1381.1 935.0 1381.8 937.9 1382.6 940.8 1383.3 943.7 1384.1 946.6 1384.9 949.5 1385.6 952.4 1386.4 955.3 1387.1 958.2 1387.9 961.1 1388.7 964.0 1389.6 966.9 1390.4 969.7 1391.2 972.6 1392.1 975.5 1393.0 978.3 1393.9 981.2 1394.8 984.1 1395.7 986.9 1396.6 989.8 1397.6 992.6 1398.5 995.4 1399.5 998.3 1400.5 1001.1 1401.5 1003.9 1402.5 1006.7 1403.6 1009.5 1404.6 1012.3 1405.7 1015.1 1406.8 1017.9 1407.9 1020.7 1409.0 1023.5 1410.1 1026.2 1411.3 1029.0 1412.5 1031.8 1413.6 1034.5 1414.8 1037.2 1416.1 1040.0 1417.3 1042.7 1418.6 1045.4 1419.8 1048.1 1421.1 1050.8 1422.4 1053.5 1423.8 1056.2 1425.1 1058.8 1426.5 1061.5 1427.9 1064.1 1429.3 1066.7 1430.7 1069.4 1432.1 1072.0 1433.6 1074.6 1435.1 1077.1 1436.6 1079.7 1438.2 1082.2 1439.7 1084.7 1441.3 1087.2 1443.0 1089.7 1444.7 1092.2 1446.4 1094.6 1448.2 1096.9 1450.0 1099.3 1451.8 1101.6 1453.7 1103.9 1455.6 1106.1 1457.6 1108.3 1459.6 1110.5 1461.7 1112.6 1463.8 1114.7 1465.9 1116.7 1468.1 1118.6 1470.3 1120.5 1472.6 1122.4 1474.9 1124.2 1477.3 1126.0 1479.7 1127.7 1482.1 1129.4 1484.6 1131.0 1487.1 1132.5 1489.6 1133.9 1492.2 1135.3 1494.8 1136.6 1497.5 1137.9 1500.1 1139.1 1502.8 1140.2 1505.6 1141.2 1508.3 1142.2 1511.1 1143.2 1513.8 1144.1 1516.6 1145.0 1519.5 1145.8 1522.3 1146.6 1525.1 1147.3 1528.0 1148.0 1530.9 1148.6 1533.8 1149.1 1536.7 1149.6 1539.7 1150.0 1542.7 1150.2 1545.8 1149.8 1548.8 1150.0 1551.7 1150.3 1554.7 1150.6 1557.6 1150.9 1560.6 1151.2 1563.6 1151.4 1566.5 1151.7 1569.5 1151.9 1572.5 1152.0 1575.5 1152.2 1578.5 1152.4 1581.5 1152.5 1584.4 1152.6 1587.4 1152.7 1590.4 1152.8 1593.4 1152.9 1596.4 1153.0 1599.4 1153.1 1602.4 1153.2 1605.4 1153.3 1608.4 1153.3 1611.4 1153.4 1614.4 1153.4 1617.4 1153.5 1620.4 1153.6 1623.4 1153.6 1626.4 1153.7 1629.4 1153.7 1632.4 1153.8 1635.4 1153.8 1638.4 1153.9 1641.4 1153.9 1644.4 1154.0 1647.4 1154.0 1650.4 1154.1 1653.4 1154.1 1656.4 1154.2 1659.3 1154.2 1662.3 1154.2 1665.3 1154.3 1668.3 1154.3 1671.3 1154.4 1674.3 1154.4 1677.3 1154.5 1680.2 1154.5 1683.2 1154.6 1686.2 1154.6 1689.2 1154.7 1692.2 1154.7 1695.1 1154.8 1698.1 1154.8 1701.1 1154.9 1704.1 1154.9 1707.0 1155.0 1710.0 1155.0" fill="none" stroke="#ff0000" stroke-width="7" stroke-linejoin="round" stroke-linecap="round"/>
<path d="M233.0 74.0 236.0 74.0 239.0 74.0 242.0 74.1 245.0 74.1 248.0 74.1 251.0 74.1 254.0 74.1 257.0 74.1 260.0 74.2 263.0 74.2 266.0 74.2 269.0 74.2 272.0 74.2 275.0 74.3 278.0 74.3 281.0 74.3 284.0 74.3 287.0 74.3 290.0 74.3 293.0 74.4 296.0 74.4 299.0 74.4 302.0 74.4 305.0 74.4 308.0 74.4 311.0 74.5 314.0 74.5 317.0 74.5 320.0 74.5 323.0 74.5 326.0 74.6 329.0 74.6 332.0 74.6 335.0 74.6 338.0 74.6 341.0 74.7 344.0 74.7 347.0 74.7 350.0 74.7 353.0 74.8 356.0 74.8 359.0 74.8 362.0 74.9 365.0 74.9 368.0 74.9 371.0 75.0 374.0 75.0 377.0 75.1 380.0 75.1 383.0 75.2 386.0 75.2 389.0 75.3 392.0 75.3 395.0 75.4 398.0 75.5 401.0 75.5 404.0 75.6 407.0 75.7 410.0 75.8 413.0 75.9 416.0 76.0 419.0 76.1 422.0 76.2 425.0 76.3 428.0 76.4 431.0 76.5 434.0 76.6 437.0 76.7 440.0 76.8 443.0 77.0 445.9 77.1 448.9 77.2 451.9 77.4 454.9 77.5 457.9 77.7 460.9 77.8 463.9 78.0 466.9 78.2 469.9 78.3 472.9 78.5 475.9 78.7 478.9 78.9 481.9 79.1 484.9 79.3 487.8 79.6 490.8 79.8 493.8 80.1 496.8 80.3 499.8 80.6 502.7 80.9 505.7 81.2 508.7 81.6 511.6 81.9 514.6 82.3 517.6 82.6 520.6 82.8 523.6 83.1 526.5 83.4 529.5 83.8 532.5 84.2 535.4 84.6 538.4 85.1 541.3 85.6 544.2 86.1 547.2 86.7 550.1 87.4 552.9 88.2 555.8 89.0 558.6 89.9 561.5 90.8 564.3 91.8 567.0 92.9 569.8 94.0 572.5 95.2 575.2 96.5 577.8 97.8 580.5 99.2 583.1 100.6 585.7 102.0 588.2 103.5 590.7 105.1 593.2 106.6 595.7 108.2 598.2 109.8 600.7 111.4 603.2 113.1 605.6 114.7 608.1 116.4 610.5 118.1 612.9 119.8 615.3 121.6 617.6 123.4 620.0 125.2 622.3 127.0 624.6 128.9 626.8 130.8 629.1 132.8 631.3 134.7 633.5 136.7 635.7 138.8 637.8 140.8 640.0 142.9 642.1 145.0 644.2 147.1 646.2 149.2 648.3 151.4 650.3 153.6 652.3 155.8 654.3 158.0 656.3 160.2 658.2 162.5 660.1 164.8 662.0 167.0 663.9 169.4 665.8 171.7 667.6 174.0 669.4 176.4 671.2 178.8 673.0 181.2 674.7 183.6 676.5 186.0 678.2 188.5 679.8 190.9 681.5 193.4 683.1 195.9 684.7 198.4 686.3 200.9 687.9 203.5 689.4 206.0 690.9 208.6 692.4 211.2 693.8 213.8 695.2 216.4 696.7 219.0 698.0 221.7 699.4 224.3 700.7 227.0 702.1 229.7 703.3 232.3 704.6 235.0 705.9 237.8 707.1 240.5 708.3 243.2 709.5 245.9 710.7 248.7 711.9 251.4 713.0 254.2 714.2 257.0 715.3 259.7 716.4 262.5 717.5 265.3 718.6 268.1 719.7 270.8 720.8 273.6 721.9 276.4 723.0 279.2 724.1 282.0 725.1 284.8 726.2 287.6 727.3 290.4 728.3 293.2 729.4 296.0 730.5 298.8 731.5 301.6 732.6 304.4 733.7 307.2 734.8 310.0 735.9 312.8 737.0 315.6 738.1 318.4 739.2 321.2 740.3 324.0 741.4 326.8 742.5 329.6 743.5 332.3 744.6 335.1 745.7 337.9 746.8 340.8 747.8 343.6 748.8 346.4 749.8 349.2 750.9 352.0 751.9 354.8 752.8 357.7 753.8 360.5 754.8 363.3 755.8 366.2 756.8 369.0 757.8 371.8 758.7 374.7 759.7 377.5 760.6 380.4 761.5 383.2 762.4 386.1 763.3 388.9 764.2 391.8 765.1 394.7 766.0 397.5 766.9 400.4 767.7 403.3 768.6 406.1 769.5 409.0 770.3 411.9 771.2 414.8 772.0 417.6 772.8 420.5 773.7 423.4 774.5 426.3 775.3 429.2 776.2 432.0 777.0 434.9 777.9 437.8 778.7 440.7 779.6 443.6 780.4 446.4 781.2 449.3 782.1 452.2 782.9 455.1 783.8 457.9 784.6 460.8 785.4 463.7 786.3 466.6 787.1 469.5 787.9 472.4 788.7 475.2 789.6 478.1 790.4 481.0 791.2 483.9 791.9 486.8 792.7 489.7 793.5 492.6 794.2 495.5 795.0 498.4 795.7 501.3 796.5 504.2 797.2 507.1 797.9 510.0 798.6 512.9 799.3 515.8 800.0 518.8 800.7 521.7 801.3 524.6 802.0 527.5 802.7 530.4 803.3 533.4 804.0 536.3 804.6 539.2 805.3 542.2 805.9 545.1 806.5 548.0 807.2 550.9 807.8 553.9 808.4 556.8 809.0 559.7 809.7 562.7 810.3 565.6 810.9 568.5 811.5 571.5 812.1 574.4 812.8 577.3 813.4 580.3 814.0 583.2 814.7 586.1 815.3 589.1 816.0 592.0 816.7 594.9 817.3 597.8 818.0 600.8 818.7 603.7 819.4 606.6 820.1 609.5 820.8 612.4 821.5 615.3 822.2 618.3 822.9 621.2 823.7 624.1 824.4 627.0 825.2 629.9 825.9 632.8 826.7 635.7 827.5 638.6 828.3 641.4 829.1 644.3 829.9 647.2 830.7 650.1 831.5 653.0 832.4 655.9 833.2 658.8 834.0 661.6 834.8 664.5 835.6 667.4 836.3 670.3 837.1 673.2 837.8 676.1 838.6 679.0 839.3 681.9 840.0 684.8 840.8 687.8 841.5 690.7 842.2 693.6 842.9 696.5 843.6 699.4 844.3 702.3 845.0 705.2 845.8 708.1 846.5 711.1 847.2 714.0 847.9 716.9 848.6 719.8 849.3 722.7 850.0 725.6 850.7 728.5 851.5 731.5 852.2 734.4 852.9 737.3 853.6 740.2 854.4 743.1 855.1 746.0 855.9 748.9 856.6 751.8 857.4 754.7 858.1 757.6 858.9 760.5 859.7 763.4 860.5 766.3 861.3 769.2 862.1 772.1 862.9 774.9 863.7 777.8 864.5 780.7 865.4 783.6 866.3 786.4 867.2 789.3 868.0 792.1 868.8 795.0 869.7 797.9 870.4 800.8 871.2 803.7 872.0 806.5 872.8 809.4 873.6 812.3 874.3 815.2 875.1 818.1 875.9 821.0 876.6 823.9 877.4 826.8 878.2 829.7 879.0 832.6 879.7 835.5 880.5 838.4 881.3 841.2 882.1 844.1 882.9 847.0 883.7 849.9 884.5 852.8 885.3 855.7 886.1 858.6 887.0 861.4 887.8 864.3 888.6 867.2 889.5 870.1 890.3 872.9 891.2 875.8 892.1 878.7 893.0 881.5 893.9 884.4 894.9 887.2 895.8 890.1 896.7 892.9 897.7 895.8 898.6 898.6 899.6 901.5 900.5 904.3 901.4 907.2 902.4 910.0 903.3 912.9 904.3 915.7 905.2 918.6 906.1 921.4 907.0 924.3 908.0 927.1 908.9 930.0 909.8 932.8 910.7 935.7 911.6 938.6 912.5 941.4 913.4 944.3 914.3 947.1 915.2 950.0 916.1 952.9 917.0 955.7 917.9 958.6 918.8 961.4 919.8 964.3 920.7 967.1 921.6 970.0 922.6 972.8 923.5 975.7 924.5 978.5 925.5 981.3 926.5 984.1 927.6 987.0 928.6 989.8 929.7 992.6 930.7 995.4 931.8 998.1 933.0 1000.9 934.1 1003.7 935.2 1006.4 936.4 1009.2 937.6 1011.9 938.9 1014.6 940.1 1017.3 941.4 1020.0 942.8 1022.6 944.1 1025.3 945.5 1027.9 947.0 1030.5 948.4 1033.1 950.0 1035.6 951.5 1038.2 953.1 1040.7 954.8 1043.1 956.5 1045.6 958.2 1048.0 960.0 1050.4 961.8 1052.7 963.7 1055.1 965.6 1057.4 967.5 1059.7 969.4 1062.0 971.3 1064.2 973.3 1066.5 975.3 1068.7 977.3 1071.0 979.3 1073.2 981.3 1075.4 983.4 1077.6 985.4 1079.7 987.5 1081.9 989.5 1084.1 991.6 1086.2 993.8 1088.3 995.9 1090.4 998.1 1092.4 1000.3 1094.4 1002.5 1096.4 1004.8 1098.3 1007.0 1100.2 1009.4 1102.0 1011.7 1103.9 1014.1 1105.6 1016.6 1107.3 1019.1 1108.9 1021.6 1110.5 1024.2 1112.0 1026.8 1113.5 1029.4 1114.9 1032.0 1116.3 1034.7 1117.6 1037.4 1118.9 1040.1 1120.1 1042.9 1121.2 1045.7 1122.3 1048.5 1123.3 1051.3 1124.2 1054.2 1125.1 1057.0 1125.9 1059.9 1126.6 1062.8 1127.3 1065.7 1128.0 1068.7 1128.6 1071.6 1129.2 1074.5 1129.8 1077.5 1130.3 1080.4 1130.8 1083.4 1131.2 1086.3 1131.7 1089.3 1132.1 1092.3 1132.4 1095.3 1132.8 1098.2 1133.1 1101.2 1133.4 1104.2 1133.7 1107.2 1134.0 1110.2 1134.3 1113.2 1134.6 1116.1 1134.8 1119.1 1135.1 1122.1 1135.4 1125.1 1135.7 1128.1 1136.0 1131.1 1136.3 1134.0 1136.6 1137.0 1136.8 1140.0 1137.1 1143.0 1137.4 1146.0 1137.7 1149.0 1137.9 1152.0 1138.2 1154.9 1138.5 1157.9 1138.7 1160.9 1139.0 1163.9 1139.3 1166.9 1139.5 1169.9 1139.8 1172.9 1140.0 1175.9 1140.3 1178.9 1140.5 1181.8 1140.8 1184.8 1141.0 1187.8 1141.3 1190.8 1141.5 1193.8 1141.7 1196.8 1141.9 1199.8 1142.2 1202.8 1142.4 1205.8 1142.6 1208.8 1142.8 1211.7 1143.0 1214.7 1143.2 1217.7 1143.3 1220.7 1143.5 1223.7 1143.7 1226.7 1143.8 1229.7 1144.0 1232.7 1144.1 1235.7 1144.3 1238.7 1144.4 1241.7 1144.5 1244.7 1144.7 1247.7 1144.8 1250.7 1144.9 1253.7 1145.0 1256.7 1145.1 1259.7 1145.2 1262.7 1145.4 1265.7 1145.5 1268.7 1145.6 1271.7 1145.7 1274.6 1145.8 1277.6 1145.9 1280.6 1146.0 1283.6 1146.1 1286.6 1146.2 1289.6 1146.3 1292.6 1146.4 1295.6 1146.5 1298.6 1146.6 1301.6 1146.7 1304.6 1146.8 1307.6 1146.9 1310.6 1147.0 1313.6 1147.1 1316.6 1147.3 1319.6 1147.4 1322.6 1147.5 1325.6 1147.6 1328.6 1147.7 1331.6 1147.7 1334.6 1147.8 1337.6 1147.9 1340.6 1148.0 1343.6 1148.1 1346.6 1148.2 1349.6 1148.3 1352.6 1148.4 1355.6 1148.5 1358.6 1148.5 1361.6 1148.6 1364.6 1148.7 1367.6 1148.8 1370.6 1148.8 1373.6 1148.9 1376.6 1149.0 1379.6 1149.0 1382.6 1149.1 1385.6 1149.2 1388.6 1149.2 1391.6 1149.3 1394.6 1149.3 1397.6 1149.4 1400.6 1149.5 1403.6 1149.5 1406.6 1149.6 1409.6 1149.6 1412.6 1149.7 1415.6 1149.7 1418.6 1149.8 1421.6 1149.9 1424.6 1149.9 1427.6 1150.0 1430.6 1150.0 1433.6 1150.1 1436.6 1150.1 1439.6 1150.2 1442.6 1150.2 1445.6 1150.3 1448.6 1150.4 1451.6 1150.4 1454.6 1150.5 1457.6 1150.5 1460.6 1150.6 1463.6 1150.6 1466.6 1150.7 1469.6 1150.7 1472.6 1150.8 1475.6 1150.8 1478.6 1150.9 1481.6 1150.9 1484.6 1151.0 1487.6 1151.0 1490.6 1151.1 1493.6 1151.2 1496.6 1151.2 1499.6 1151.3 1502.6 1151.3 1505.6 1151.4 1508.6 1151.4 1511.6 1151.5 1514.6 1151.5 1517.6 1151.6 1520.6 1151.6 1523.6 1151.7 1526.6 1151.7 1529.6 1151.8 1532.6 1151.8 1535.6 1151.9 1538.6 1151.9 1541.6 1152.0 1544.6 1152.0 1547.6 1152.1 1550.6 1152.1 1553.6 1152.2 1556.6 1152.2 1559.6 1152.3 1562.6 1152.3 1565.6 1152.4 1568.6 1152.4 1571.6 1152.5 1574.6 1152.5 1577.6 1152.6 1580.6 1152.6 1583.6 1152.7 1586.6 1152.7 1589.6 1152.7 1592.6 1152.8 1595.6 1152.8 1598.6 1152.9 1601.6 1152.9 1604.6 1152.9 1607.6 1153.0 1610.6 1153.0 1613.6 1153.1 1616.5 1153.1 1619.5 1153.1 1622.5 1153.2 1625.5 1153.2 1628.5 1153.2 1631.5 1153.3 1634.5 1153.3 1637.5 1153.3 1640.5 1153.4 1643.5 1153.4 1646.5 1153.4 1649.5 1153.4 1652.5 1153.5 1655.4 1153.5 1658.4 1153.5 1661.4 1153.6 1664.4 1153.6 1667.3 1153.6 1670.3 1153.6 1673.3 1153.7 1676.2 1153.7 1679.2 1153.7 1682.1 1153.7 1685.1 1153.8 1688.0 1153.8 1690.9 1153.8 1693.9 1153.9 1696.8 1153.9 1699.7 1153.9 1702.7 1153.9 1705.6 1154.0 1708.5 1154.0 1710.0 1154.0" fill="none" stroke="#00ee00" stroke-width="7" stroke-linejoin="round" stroke-linecap="round"/>
<path d="M233.0 74.0 236.0 74.0 239.0 74.1 242.0 74.1 245.0 74.1 248.0 74.2 251.0 74.2 254.0 74.3 257.0 74.3 260.0 74.3 263.0 74.4 266.0 74.4 269.0 74.5 272.0 74.5 275.0 74.6 278.0 74.7 281.0 74.7 284.0 74.8 286.9 74.9 289.9 75.0 292.9 75.1 295.9 75.2 298.9 75.3 301.9 75.4 304.9 75.4 307.9 75.5 310.9 75.5 313.9 75.6 316.9 75.8 319.9 76.2 322.8 76.7 325.7 77.2 328.6 77.8 331.5 78.5 334.4 79.3 337.2 80.1 340.0 81.0 342.8 82.0 345.6 83.0 348.4 84.1 351.1 85.2 353.8 86.4 356.5 87.6 359.2 88.9 361.9 90.3 364.5 91.7 367.1 93.1 369.7 94.6 372.2 96.1 374.8 97.7 377.3 99.3 379.8 100.9 382.2 102.6 384.7 104.3 387.1 106.0 389.4 107.8 391.8 109.6 394.1 111.5 396.3 113.4 398.5 115.4 400.7 117.4 402.8 119.5 404.9 121.6 406.9 123.7 408.9 125.9 410.8 128.2 412.7 130.5 414.5 132.8 416.2 135.2 418.0 137.6 419.6 140.0 421.3 142.5 422.8 145.0 424.3 147.5 425.8 150.1 427.2 152.7 428.6 155.3 430.0 158.0 431.3 160.7 432.5 163.3 433.8 166.0 435.0 168.8 436.2 171.5 437.3 174.3 438.4 177.0 439.5 179.8 440.5 182.6 441.5 185.4 442.5 188.2 443.5 191.1 444.4 193.9 445.3 196.8 446.2 199.6 447.1 202.5 448.0 205.3 448.8 208.2 449.6 211.1 450.4 214.0 451.2 216.9 451.9 219.7 452.7 222.6 453.4 225.5 454.1 228.5 454.9 231.4 455.6 234.3 456.2 237.2 456.9 240.1 457.6 243.0 458.3 245.9 458.9 248.9 459.6 251.8 460.2 254.7 460.9 257.6 461.5 260.6 462.1 263.5 462.7 266.4 463.3 269.4 463.9 272.3 464.5 275.3 465.1 278.2 465.6 281.2 466.2 284.1 466.8 287.0 467.3 290.0 467.9 292.9 468.5 295.9 469.0 298.8 469.6 301.8 470.1 304.7 470.6 307.7 471.2 310.6 471.7 313.6 472.3 316.5 472.8 319.5 473.3 322.4 473.9 325.4 474.4 328.3 474.9 331.3 475.5 334.2 476.0 337.2 476.5 340.1 477.0 343.1 477.6 346.1 478.1 349.0 478.6 352.0 479.1 354.9 479.7 357.9 480.2 360.8 480.7 363.8 481.2 366.7 481.7 369.7 482.3 372.6 482.8 375.6 483.3 378.6 483.8 381.5 484.3 384.5 484.9 387.4 485.4 390.4 485.9 393.3 486.4 396.3 486.9 399.2 487.4 402.2 487.9 405.2 488.4 408.1 488.9 411.1 489.4 414.0 489.9 417.0 490.4 419.9 490.9 422.9 491.4 425.9 491.9 428.8 492.4 431.8 492.9 434.7 493.4 437.7 493.9 440.7 494.4 443.6 494.8 446.6 495.3 449.5 495.8 452.5 496.3 455.5 496.7 458.4 497.2 461.4 497.7 464.4 498.1 467.3 498.6 470.3 499.0 473.2 499.5 476.2 499.9 479.2 500.4 482.1 500.8 485.1 501.3 488.1 501.7 491.0 502.1 494.0 502.6 497.0 503.0 500.0 503.4 502.9 503.9 505.9 504.3 508.9 504.7 511.8 505.1 514.8 505.5 517.8 506.0 520.7 506.4 523.7 506.8 526.7 507.2 529.7 507.6 532.6 508.0 535.6 508.4 538.6 508.7 541.6 509.1 544.5 509.5 547.5 509.9 550.5 510.3 553.5 510.7 556.4 511.0 559.4 511.4 562.4 511.8 565.4 512.2 568.3 512.5 571.3 512.9 574.3 513.3 577.3 513.7 580.2 514.0 583.2 514.4 586.2 514.8 589.2 515.2 592.1 515.5 595.1 515.9 598.1 516.3 601.1 516.7 604.1 517.0 607.0 517.4 610.0 517.8 613.0 518.2 616.0 518.5 618.9 518.9 621.9 519.3 624.9 519.6 627.9 520.0 630.8 520.4 633.8 520.8 636.8 521.1 639.8 521.5 642.8 521.9 645.7 522.2 648.7 522.6 651.7 523.0 654.7 523.3 657.6 523.7 660.6 524.1 663.6 524.5 666.6 524.8 669.5 525.2 672.5 525.6 675.5 525.9 678.5 526.3 681.5 526.7 684.4 527.1 687.4 527.5 690.4 527.8 693.4 528.2 696.3 528.6 699.3 529.0 702.3 529.4 705.3 529.8 708.2 530.2 711.2 530.6 714.2 531.0 717.1 531.5 720.1 531.9 723.1 532.3 726.1 532.7 729.0 533.1 732.0 533.6 735.0 534.0 737.9 534.4 740.9 534.9 743.9 535.3 746.8 535.7 749.8 536.2 752.8 536.6 755.7 537.1 758.7 537.5 761.7 538.0 764.6 538.4 767.6 538.9 770.6 539.3 773.5 539.8 776.5 540.2 779.5 540.7 782.4 541.2 785.4 541.6 788.4 542.1 791.3 542.6 794.3 543.0 797.2 543.5 800.2 544.0 803.2 544.5 806.1 545.0 809.1 545.5 812.0 546.0 815.0 546.5 818.0 547.0 820.9 547.5 823.9 548.0 826.8 548.6 829.8 549.1 832.7 549.6 835.7 550.2 838.6 550.7 841.6 551.3 844.5 551.9 847.5 552.4 850.4 553.0 853.3 553.6 856.3 554.2 859.2 554.8 862.2 555.3 865.1 555.9 868.0 556.6 871.0 557.2 873.9 557.8 876.9 558.4 879.8 559.0 882.7 559.6 885.7 560.3 888.6 560.9 891.5 561.5 894.5 562.2 897.4 562.8 900.3 563.5 903.2 564.1 906.2 564.8 909.1 565.4 912.0 566.1 915.0 566.7 917.9 567.4 920.8 568.0 923.7 568.7 926.7 569.4 929.6 570.0 932.5 570.7 935.4 571.4 938.3 572.1 941.3 572.8 944.2 573.5 947.1 574.2 950.0 575.0 952.9 575.7 955.8 576.5 958.7 577.2 961.6 578.0 964.5 578.8 967.4 579.6 970.3 580.4 973.1 581.3 976.0 582.1 978.9 583.0 981.7 583.9 984.6 584.8 987.5 585.7 990.3 586.7 993.2 587.6 996.0 588.6 998.8 589.6 1001.6 590.7 1004.4 591.7 1007.3 592.8 1010.0 593.9 1012.8 595.0 1015.6 596.1 1018.4 597.3 1021.1 598.4 1023.9 599.6 1026.6 600.8 1029.4 602.1 1032.1 603.4 1034.8 604.7 1037.5 606.0 1040.1 607.3 1042.8 608.6 1045.5 610.0 1048.1 611.5 1050.7 612.9 1053.3 614.4 1055.9 615.9 1058.4 617.5 1061.0 619.1 1063.5 620.7 1066.0 622.3 1068.4 624.0 1070.8 625.8 1073.2 627.6 1075.5 629.4 1077.9 631.3 1080.2 633.2 1082.4 635.1 1084.6 637.1 1086.8 639.2 1088.9 641.3 1091.0 643.4 1093.0 645.6 1094.9 647.8 1096.8 650.1 1098.7 652.4 1100.5 654.9 1102.2 657.3 1103.8 659.8 1105.3 662.4 1106.8 665.0 1108.3 667.6 1109.7 670.2 1111.0 672.9 1112.3 675.6 1113.5 678.3 1114.7 681.0 1115.9 683.8 1117.0 686.6 1118.0 689.4 1119.1 692.2 1120.0 695.0 1121.0 697.8 1121.9 700.7 1122.8 703.5 1123.6 706.4 1124.4 709.3 1125.2 712.2 1125.9 715.1 1126.7 718.0 1127.4 720.9 1128.0 723.8 1128.7 726.7 1129.3 729.6 1129.9 732.6 1130.5 735.5 1131.0 738.4 1131.6 741.4 1132.1 744.3 1132.6 747.3 1133.1 750.2 1133.5 753.2 1134.0 756.1 1134.4 759.1 1134.8 762.1 1135.2 765.0 1135.6 768.0 1136.0 771.0 1136.4 773.9 1136.8 776.9 1137.1 779.9 1137.5 782.9 1137.8 785.9 1138.2 788.8 1138.5 791.8 1138.8 794.8 1139.1 797.8 1139.4 800.8 1139.7 803.7 1140.0 806.7 1140.3 809.7 1140.6 812.7 1140.8 815.7 1141.1 818.7 1141.4 821.7 1141.6 824.7 1141.9 827.6 1142.1 830.6 1142.3 833.6 1142.6 836.6 1142.8 839.6 1143.0 842.6 1143.2 845.6 1143.4 848.6 1143.6 851.6 1143.8 854.6 1144.0 857.6 1144.2 860.6 1144.4 863.6 1144.6 866.5 1144.7 869.5 1144.9 872.5 1145.1 875.5 1145.2 878.5 1145.4 881.5 1145.5 884.5 1145.7 887.5 1145.8 890.5 1146.0 893.5 1146.1 896.5 1146.3 899.5 1146.4 902.5 1146.5 905.5 1146.7 908.5 1146.8 911.5 1146.9 914.5 1147.0 917.5 1147.1 920.5 1147.3 923.5 1147.4 926.5 1147.5 929.5 1147.6 932.5 1147.7 935.5 1147.8 938.5 1147.9 941.5 1148.0 944.5 1148.1 947.5 1148.2 950.5 1148.3 953.5 1148.4 956.5 1148.5 959.5 1148.5 962.5 1148.6 965.5 1148.7 968.5 1148.8 971.5 1148.9 974.5 1148.9 977.5 1149.0 980.4 1149.1 983.4 1149.2 986.4 1149.2 989.4 1149.3 992.4 1149.4 995.4 1149.4 998.4 1149.5 1001.4 1149.6 1004.4 1149.6 1007.4 1149.7 1010.4 1149.8 1013.4 1149.8 1016.4 1149.9 1019.4 1149.9 1022.4 1150.0 1025.4 1150.1 1028.4 1150.1 1031.4 1150.2 1034.4 1150.2 1037.4 1150.3 1040.4 1150.4 1043.4 1150.4 1046.4 1150.5 1049.4 1150.5 1052.4 1150.6 1055.4 1150.6 1058.4 1150.7 1061.4 1150.7 1064.4 1150.8 1067.4 1150.8 1070.4 1150.9 1073.4 1150.9 1076.4 1151.0 1079.4 1151.0 1082.4 1151.1 1085.4 1151.1 1088.4 1151.2 1091.4 1151.2 1094.4 1151.3 1097.4 1151.3 1100.4 1151.3 1103.4 1151.4 1106.4 1151.4 1109.4 1151.5 1112.4 1151.5 1115.4 1151.5 1118.4 1151.6 1121.4 1151.6 1124.4 1151.6 1127.4 1151.7 1130.4 1151.7 1133.4 1151.7 1136.4 1151.7 1139.4 1151.8 1142.4 1151.8 1145.4 1151.8 1148.4 1151.8 1151.4 1151.9 1154.4 1151.9 1157.4 1151.9 1160.4 1151.9 1163.4 1152.0 1166.4 1152.0 1169.4 1152.0 1172.4 1152.0 1175.4 1152.1 1178.4 1152.1 1181.4 1152.1 1184.4 1152.1 1187.4 1152.2 1190.4 1152.2 1193.4 1152.2 1196.4 1152.2 1199.4 1152.2 1202.4 1152.3 1205.4 1152.3 1208.4 1152.3 1211.4 1152.3 1214.4 1152.4 1217.4 1152.4 1220.4 1152.4 1223.4 1152.4 1226.4 1152.4 1229.4 1152.5 1232.4 1152.5 1235.4 1152.5 1238.4 1152.5 1241.4 1152.6 1244.4 1152.6 1247.4 1152.6 1250.4 1152.6 1253.4 1152.6 1256.4 1152.7 1259.4 1152.7 1262.4 1152.7 1265.4 1152.7 1268.4 1152.8 1271.4 1152.8 1274.4 1152.8 1277.4 1152.8 1280.4 1152.8 1283.4 1152.9 1286.4 1152.9 1289.4 1152.9 1292.4 1152.9 1295.4 1152.9 1298.4 1153.0 1301.4 1153.0 1304.4 1153.0 1307.4 1153.0 1310.4 1153.0 1313.4 1153.0 1316.4 1153.1 1319.4 1153.1 1322.4 1153.1 1325.4 1153.1 1328.4 1153.1 1331.4 1153.1 1334.4 1153.2 1337.4 1153.2 1340.4 1153.2 1343.4 1153.2 1346.4 1153.2 1349.4 1153.2 1352.4 1153.3 1355.4 1153.3 1358.4 1153.3 1361.4 1153.3 1364.4 1153.3 1367.4 1153.3 1370.4 1153.4 1373.4 1153.4 1376.4 1153.4 1379.4 1153.4 1382.4 1153.4 1385.4 1153.4 1388.4 1153.4 1391.4 1153.5 1394.4 1153.5 1397.4 1153.5 1400.4 1153.5 1403.4 1153.5 1406.4 1153.5 1409.4 1153.5 1412.4 1153.6 1415.4 1153.6 1418.4 1153.6 1421.4 1153.6 1424.4 1153.6 1427.4 1153.6 1430.4 1153.7 1433.4 1153.7 1436.4 1153.7 1439.4 1153.7 1442.4 1153.7 1445.4 1153.7 1448.4 1153.7 1451.4 1153.8 1454.4 1153.8 1457.4 1153.8 1460.4 1153.8 1463.4 1153.8 1466.4 1153.8 1469.4 1153.8 1472.4 1153.9 1475.4 1153.9 1478.4 1153.9 1481.4 1153.9 1484.4 1153.9 1487.4 1153.9 1490.4 1153.9 1493.4 1154.0 1496.4 1154.0 1499.4 1154.0 1502.4 1154.0 1505.4 1154.0 1508.4 1154.0 1511.4 1154.1 1514.4 1154.1 1517.4 1154.1 1520.4 1154.1 1523.4 1154.1 1526.4 1154.1 1529.4 1154.1 1532.4 1154.2 1535.4 1154.2 1538.4 1154.2 1541.4 1154.2 1544.4 1154.2 1547.4 1154.2 1550.4 1154.2 1553.4 1154.3 1556.4 1154.3 1559.4 1154.3 1562.4 1154.3 1565.4 1154.3 1568.4 1154.3 1571.4 1154.3 1574.4 1154.4 1577.4 1154.4 1580.4 1154.4 1583.4 1154.4 1586.4 1154.4 1589.4 1154.4 1592.4 1154.4 1595.4 1154.5 1598.4 1154.5 1601.4 1154.5 1604.4 1154.5 1607.4 1154.5 1610.4 1154.5 1613.4 1154.5 1616.4 1154.6 1619.4 1154.6 1622.4 1154.6 1625.4 1154.6 1628.4 1154.6 1631.4 1154.6 1634.4 1154.6 1637.4 1154.7 1640.4 1154.7 1643.4 1154.7 1646.4 1154.7 1649.3 1154.7 1652.3 1154.7 1655.3 1154.7 1658.3 1154.8 1661.3 1154.8 1664.2 1154.8 1667.2 1154.8 1670.2 1154.8 1673.2 1154.8 1676.1 1154.8 1679.1 1154.9 1682.0 1154.9 1685.0 1154.9 1687.9 1154.9 1690.9 1154.9 1693.8 1154.9 1696.8 1154.9 1699.7 1155.0 1702.7 1155.0 1705.6 1155.0 1708.5 1155.0 1710.0 1155.0" fill="none" stroke="#0000ff" stroke-width="7" stroke-linejoin="round" stroke-linecap="round"/>
<path d="M233.0 73.0 236.0 73.0 239.0 73.0 242.0 73.0 245.0 73.0 248.0 73.1 251.0 73.1 254.0 73.1 257.0 73.1 260.0 73.1 263.0 73.1 266.0 73.1 269.0 73.1 272.0 73.1 275.0 73.2 278.0 73.2 281.0 73.2 284.0 73.2 287.0 73.2 290.0 73.2 293.0 73.2 296.0 73.2 299.0 73.2 302.0 73.3 305.0 73.3 308.0 73.3 311.0 73.3 314.0 73.3 317.0 73.3 320.0 73.3 323.0 73.3 326.0 73.3 329.0 73.4 332.0 73.4 335.0 73.4 338.0 73.4 341.0 73.4 344.0 73.4 347.0 73.4 350.0 73.4 353.0 73.4 356.0 73.5 359.0 73.5 362.0 73.5 365.0 73.5 368.0 73.5 371.0 73.5 374.0 73.5 377.0 73.5 380.0 73.6 383.0 73.6 386.0 73.6 389.0 73.6 392.0 73.6 395.0 73.6 398.0 73.6 401.0 73.6 404.0 73.6 407.0 73.7 410.0 73.7 413.0 73.7 416.0 73.7 419.0 73.7 422.0 73.7 425.0 73.8 428.0 73.8 431.0 73.8 434.0 73.8 437.0 73.9 440.0 73.9 443.0 74.0 446.0 74.1 448.9 74.1 451.9 74.2 454.9 74.3 457.9 74.4 460.8 74.6 463.8 74.7 466.8 74.9 469.7 75.1 472.6 75.4 475.6 75.7 478.5 76.0 481.4 76.3 484.3 76.7 487.1 77.2 490.0 77.7 492.8 78.2 495.6 78.8 498.4 79.5 501.2 80.2 503.9 81.0 506.6 81.9 510.1 81.0 513.6 80.2 516.9 79.7 520.1 79.9 522.8 81.1 525.4 82.4 528.0 83.9 530.5 85.6 532.9 87.3 535.2 89.2 537.4 91.2 539.6 93.2 541.7 95.3 543.7 97.5 545.7 99.8 547.6 102.1 549.4 104.5 551.2 106.9 552.9 109.3 554.6 111.8 556.3 114.2 557.9 116.8 559.5 119.3 561.1 121.8 562.7 124.4 564.2 127.0 565.7 129.6 567.2 132.2 568.6 134.8 570.0 137.4 571.4 140.1 572.8 142.8 574.1 145.4 575.4 148.1 576.6 150.9 577.9 153.6 579.1 156.3 580.2 159.1 581.4 161.8 582.5 164.6 583.7 167.4 584.8 170.2 585.8 173.0 586.9 175.8 587.9 178.6 588.9 181.4 589.9 184.2 590.8 187.1 591.7 189.9 592.6 192.8 593.5 195.6 594.3 198.5 595.1 201.4 595.9 204.3 596.7 207.2 597.5 210.1 598.2 213.0 598.9 215.9 599.6 218.8 600.3 221.7 600.9 224.6 601.6 227.6 602.2 230.5 602.8 233.4 603.3 236.4 603.9 239.3 604.4 242.2 604.9 245.2 605.4 248.1 605.8 251.1 606.3 254.1 606.7 257.0 607.2 260.0 607.6 263.0 608.0 265.9 608.4 268.9 608.7 271.9 609.1 274.8 609.5 277.8 609.8 280.8 610.2 283.8 610.5 286.8 610.9 289.7 611.2 292.7 611.5 295.7 611.8 298.7 612.1 301.7 612.4 304.6 612.7 307.6 613.0 310.6 613.3 313.6 613.6 316.6 613.9 319.6 614.2 322.6 614.4 325.5 614.7 328.5 615.0 331.5 615.2 334.5 615.5 337.5 615.8 340.5 616.0 343.5 616.3 346.5 616.5 349.4 616.7 352.4 617.0 355.4 617.2 358.4 617.5 361.4 617.7 364.4 618.0 367.4 618.2 370.4 618.4 373.4 618.7 376.4 618.9 379.3 619.1 382.3 619.4 385.3 619.6 388.3 619.9 391.3 620.1 394.3 620.4 397.3 620.6 400.3 620.8 403.3 621.1 406.3 621.3 409.2 621.6 412.2 621.8 415.2 622.1 418.2 622.4 421.2 622.6 424.2 622.9 427.2 623.1 430.2 623.4 433.2 623.7 436.1 623.9 439.1 624.2 442.1 624.5 445.1 624.7 448.1 625.0 451.1 625.3 454.1 625.5 457.1 625.8 460.1 626.1 463.0 626.4 466.0 626.6 469.0 626.9 472.0 627.2 475.0 627.5 478.0 627.8 481.0 628.0 483.9 628.3 486.9 628.6 489.9 628.9 492.9 629.2 495.9 629.4 498.9 629.7 501.9 630.0 504.9 630.3 507.8 630.6 510.8 630.8 513.8 631.1 516.8 631.4 519.8 631.7 522.8 631.9 525.8 632.2 528.8 632.4 531.7 632.6 534.7 632.9 537.7 633.1 540.7 633.3 543.7 633.6 546.7 633.8 549.7 634.0 552.7 634.3 555.7 634.5 558.7 634.7 561.7 634.9 564.6 635.2 567.6 635.4 570.6 635.6 573.6 635.8 576.6 636.0 579.6 636.3 582.6 636.5 585.6 636.7 588.6 636.9 591.6 637.2 594.6 637.4 597.6 637.6 600.5 637.8 603.5 638.1 606.5 638.3 609.5 638.5 612.5 638.7 615.5 639.0 618.5 639.2 621.5 639.4 624.5 639.6 627.5 639.9 630.5 640.1 633.5 640.3 636.4 640.5 639.4 640.7 642.4 641.0 645.4 641.2 648.4 641.4 651.4 641.6 654.4 641.9 657.4 642.1 660.4 642.3 663.4 642.6 666.4 642.8 669.4 643.0 672.3 643.2 675.3 643.5 678.3 643.7 681.3 644.0 684.3 644.2 687.3 644.5 690.3 644.8 693.3 645.0 696.3 645.3 699.2 645.6 702.2 645.9 705.2 646.1 708.2 646.4 711.2 646.6 714.2 646.9 717.2 647.2 720.2 647.4 723.2 647.7 726.1 647.9 729.1 648.2 732.1 648.4 735.1 648.7 738.1 648.9 741.1 649.2 744.1 649.4 747.1 649.7 750.1 649.9 753.0 650.1 756.0 650.4 759.0 650.6 762.0 650.9 765.0 651.1 768.0 651.3 771.0 651.6 774.0 651.8 777.0 652.1 780.0 652.3 783.0 652.6 785.9 652.8 788.9 653.0 791.9 653.3 794.9 653.5 797.9 653.8 800.9 654.0 803.9 654.3 806.9 654.5 809.9 654.8 812.9 655.0 815.8 655.3 818.8 655.5 821.8 655.8 824.8 656.0 827.8 656.3 830.8 656.5 833.8 656.8 836.8 657.0 839.8 657.3 842.7 657.6 845.7 657.8 848.7 658.1 851.7 658.4 854.7 658.6 857.7 658.9 860.7 659.2 863.7 659.4 866.6 659.7 869.6 660.0 872.6 660.3 875.6 660.6 878.6 660.9 881.6 661.2 884.6 661.5 887.5 661.8 890.5 662.1 893.5 662.5 896.5 662.8 899.5 663.1 902.4 663.5 905.4 663.9 908.4 664.2 911.4 664.6 914.3 665.0 917.3 665.4 920.3 665.8 923.3 666.2 926.2 666.6 929.2 667.1 932.2 667.5 935.1 668.0 938.1 668.4 941.1 668.9 944.0 669.4 947.0 669.9 949.9 670.4 952.9 670.9 955.9 671.4 958.8 671.9 961.8 672.4 964.7 673.0 967.7 673.5 970.6 674.1 973.5 674.7 976.5 675.4 979.4 676.0 982.3 676.8 985.2 677.6 988.1 678.6 990.9 679.6 993.7 680.7 996.4 682.0 999.1 683.3 1001.8 684.7 1004.4 686.1 1007.0 687.7 1009.5 689.3 1012.0 690.9 1014.5 692.7 1017.0 694.4 1019.4 696.2 1021.7 698.1 1024.1 700.0 1026.3 701.9 1028.5 704.0 1030.6 706.1 1032.6 708.3 1034.6 710.6 1036.5 712.9 1038.2 715.4 1040.0 717.8 1041.7 720.1 1043.6 722.3 1045.5 724.6 1047.5 726.9 1049.4 729.2 1051.3 731.6 1053.1 733.9 1054.9 736.4 1056.7 738.8 1058.4 741.3 1060.1 743.7 1061.7 746.2 1063.4 748.8 1065.0 751.3 1066.6 753.9 1068.2 756.4 1069.7 759.0 1071.2 761.6 1072.8 764.2 1074.2 766.8 1075.7 769.4 1077.2 772.0 1078.6 774.7 1080.1 777.3 1081.5 779.9 1082.9 782.6 1084.3 785.3 1085.7 787.9 1087.0 790.6 1088.4 793.3 1089.8 795.9 1091.1 798.6 1092.5 801.3 1093.9 803.9 1095.3 806.6 1096.7 809.2 1098.1 811.9 1099.5 814.5 1100.9 817.2 1102.3 819.8 1103.7 822.5 1105.1 825.1 1106.6 827.7 1108.0 830.4 1109.4 833.0 1110.8 835.6 1112.2 838.3 1113.6 841.0 1115.0 843.6 1116.4 846.3 1117.7 849.0 1119.0 851.7 1120.3 854.4 1121.6 857.1 1122.9 859.9 1124.1 862.6 1125.3 865.4 1126.5 868.1 1127.6 870.9 1128.8 873.7 1129.9 876.5 1131.0 879.3 1132.1 882.1 1133.1 884.9 1134.2 887.7 1135.1 890.5 1136.1 893.4 1137.1 896.2 1138.0 899.1 1138.9 902.0 1139.7 904.8 1140.6 907.7 1141.4 910.6 1142.1 913.5 1142.9 916.4 1143.5 919.3 1144.2 922.3 1144.8 925.2 1145.4 928.1 1146.0 931.1 1146.5 934.0 1147.0 937.0 1147.5 940.0 1148.0 942.9 1148.5 945.9 1148.9 948.8 1149.3 951.8 1149.7 954.8 1150.1 957.8 1150.4 960.8 1150.7 963.7 1151.1 966.7 1151.4 969.7 1151.7 972.7 1151.9 975.7 1152.2 978.7 1152.4 981.6 1152.7 984.6 1152.9 987.6 1153.1 990.6 1153.2 993.6 1153.4 996.6 1153.6 999.6 1153.7 1002.6 1153.8 1005.6 1153.8 1008.6 1154.0 1011.6 1154.1 1014.6 1154.2 1017.6 1154.4 1020.6 1154.5 1023.6 1154.6 1026.6 1154.7 1029.6 1154.8 1032.6 1154.9 1035.6 1154.9 1038.6 1155.0 1041.5 1155.1 1044.5 1155.1 1047.5 1155.2 1050.5 1155.3 1053.5 1155.3 1056.5 1155.4 1059.5 1155.4 1062.5 1155.4 1065.5 1155.5 1068.5 1155.5 1071.5 1155.6 1074.5 1155.6 1077.5 1155.6 1080.5 1155.7 1083.5 1155.7 1086.5 1155.7 1089.5 1155.7 1092.5 1155.8 1095.5 1155.8 1098.5 1155.8 1101.5 1155.8 1104.5 1155.8 1107.5 1155.9 1110.5 1155.9 1113.5 1155.9 1116.5 1155.9 1119.5 1155.9 1122.5 1155.9 1125.5 1155.9 1128.5 1155.9 1131.5 1156.0 1134.5 1156.0 1137.5 1156.0 1140.5 1156.0 1143.5 1156.0 1146.5 1156.0 1149.5 1156.0 1152.5 1156.0 1155.5 1156.0 1158.5 1156.0 1161.5 1156.0 1164.5 1156.0 1167.5 1156.0 1170.5 1156.0 1173.5 1156.0 1176.5 1156.0 1179.5 1156.0 1182.5 1156.0 1185.5 1156.0 1188.5 1156.0 1191.5 1156.0 1194.5 1156.0 1197.5 1156.0 1200.5 1156.0 1203.5 1156.0 1206.5 1156.0 1209.5 1156.0 1212.5 1156.0 1215.5 1156.0 1218.5 1156.0 1221.5 1156.0 1224.5 1156.0 1227.5 1156.0 1230.5 1156.0 1233.5 1156.0 1236.5 1156.0 1239.5 1156.0 1242.5 1156.0 1245.5 1156.0 1248.5 1156.0 1251.5 1156.0 1254.5 1156.0 1257.5 1156.0 1260.5 1156.0 1263.5 1156.0 1266.5 1156.0 1269.5 1156.0 1272.5 1156.0 1275.5 1156.0 1278.5 1156.0 1281.5 1156.0 1284.5 1156.0 1287.5 1156.0 1290.5 1156.0 1293.5 1156.0 1296.5 1156.0 1299.5 1156.0 1302.5 1156.0 1305.5 1156.0 1308.5 1156.0 1311.5 1156.0 1314.5 1156.0 1317.5 1156.0 1320.5 1156.0 1323.5 1156.0 1326.5 1156.0 1329.5 1156.0 1332.5 1156.0 1335.5 1156.0 1338.5 1156.0 1341.5 1156.0 1344.5 1156.0 1347.5 1156.0 1350.5 1156.0 1353.5 1156.0 1356.5 1156.0 1359.5 1156.0 1362.5 1156.0 1365.5 1156.0 1368.5 1156.0 1371.5 1156.0 1374.5 1156.0 1377.5 1156.0 1380.5 1156.0 1383.5 1156.0 1386.5 1156.0 1389.5 1156.0 1392.5 1156.0 1395.5 1156.0 1398.5 1156.0 1401.5 1156.0 1404.5 1156.0 1407.5 1156.0 1410.5 1156.0 1413.5 1156.0 1416.5 1156.0 1419.5 1156.0 1422.5 1156.0 1425.5 1156.0 1428.5 1156.0 1431.5 1156.0 1434.5 1156.0 1437.5 1156.0 1440.5 1156.0 1443.5 1156.0 1446.5 1156.0 1449.5 1156.0 1452.5 1156.0 1455.5 1156.0 1458.5 1156.0 1461.5 1156.0 1464.5 1156.0 1467.5 1156.0 1470.5 1156.0 1473.5 1156.0 1476.5 1156.0 1479.5 1156.0 1482.5 1156.0 1485.5 1156.0 1488.5 1156.0 1491.5 1156.0 1494.5 1156.0 1497.5 1156.0 1500.5 1156.0 1503.5 1156.0 1506.5 1156.0 1509.5 1156.0 1512.5 1156.0 1515.5 1156.0 1518.5 1156.0 1521.5 1156.0 1524.5 1156.0 1527.5 1156.0 1530.5 1156.0 1533.5 1156.0 1536.5 1156.0 1539.5 1156.0 1542.5 1156.0 1545.5 1156.0 1548.5 1156.0 1551.5 1156.0 1554.5 1156.0 1557.5 1156.0 1560.5 1156.0 1563.5 1156.0 1566.5 1156.0 1569.5 1156.0 1572.5 1156.0 1575.5 1156.0 1578.5 1156.0 1581.5 1156.0 1584.5 1156.0 1587.5 1156.0 1590.5 1156.0 1593.5 1156.0 1596.5 1156.0 1599.5 1156.0 1602.5 1156.0 1605.5 1156.0 1608.5 1156.0 1611.5 1156.0 1614.5 1156.0 1617.5 1156.0 1620.5 1156.0 1623.5 1156.0 1626.5 1156.0 1629.5 1156.0 1632.5 1156.0 1635.5 1156.0 1638.5 1156.0 1641.5 1156.0 1644.5 1156.0 1647.5 1156.0 1650.5 1156.0 1653.5 1156.0 1656.5 1156.0 1659.5 1156.0 1662.4 1156.0 1665.4 1156.0 1668.4 1156.0 1671.4 1156.0 1674.4 1156.0 1677.4 1156.0 1680.3 1156.0 1683.3 1156.0 1686.3 1156.0 1689.2 1156.0 1692.2 1156.0 1695.2 1156.0 1698.1 1156.0 1701.1 1156.0 1704.1 1156.0 1707.0 1156.0 1710.0 1156.0" fill="none" stroke="#00ffff" stroke-width="7" stroke-linejoin="round" stroke-linecap="round"/>
<path d="M842.6 2442.0 845.4 2441.0 848.3 2440.0 851.1 2439.0 853.9 2437.9 856.7 2436.8 859.4 2435.7 862.2 2434.5 864.8 2433.2 867.4 2431.7 869.9 2430.2 872.2 2428.5 874.5 2426.7 876.6 2424.6 878.5 2422.5 880.4 2420.3 882.2 2417.9 884.0 2415.5 885.7 2413.1 887.3 2410.6 889.0 2408.1 890.6 2405.6 892.2 2403.1 893.8 2400.5 895.4 2398.0 896.9 2395.4 898.5 2392.9 900.0 2390.3 901.5 2387.7 903.1 2385.1 904.6 2382.5 906.1 2379.9 907.5 2377.3 909.0 2374.7 910.5 2372.1 911.9 2369.5 913.3 2366.8 914.8 2364.2 916.2 2361.5 917.5 2358.9 918.9 2356.2 920.3 2353.5 921.6 2350.8 922.9 2348.1 924.2 2345.4 925.5 2342.7 926.7 2340.0 928.0 2337.3 929.2 2334.6 930.4 2331.8 931.6 2329.1 932.8 2326.3 934.0 2323.6 935.2 2320.8 936.4 2318.0 937.5 2315.3 938.7 2312.5 939.9 2309.8 941.0 2307.0 942.2 2304.2 943.3 2301.4 944.5 2298.7 945.6 2295.9 946.7 2293.1 947.8 2290.3 949.0 2287.6 950.1 2284.8 951.1 2282.0 952.2 2279.2 953.3 2276.4 954.3 2273.5 955.3 2270.7 956.3 2267.9 957.3 2265.1 958.3 2262.2 959.2 2259.4 960.1 2256.5 961.0 2253.7 962.0 2250.8 962.9 2247.9 963.8 2245.1 964.7 2242.2 965.6 2239.4 966.5 2236.5 967.5 2233.7 968.3 2230.8 969.2 2227.9 970.0 2225.0 970.8 2222.2 971.6 2219.3 972.3 2216.3 973.1 2213.4 973.8 2210.5 974.5 2207.6 975.3 2204.7 976.0 2201.8 976.7 2198.9 977.4 2196.0 978.1 2193.1 978.8 2190.1 979.5 2187.2 980.1 2184.3 980.7 2181.4 981.3 2178.4 981.9 2175.5 982.5 2172.5 983.1 2169.6 983.6 2166.6 984.1 2163.7 984.6 2160.7 985.1 2157.8 985.6 2154.8 986.1 2151.9 986.6 2148.9 987.1 2145.9 987.6 2143.0 988.1 2140.0 988.6 2137.1 989.1 2134.1 989.7 2131.2 990.2 2128.2 990.7 2125.2 991.2 2122.3 991.7 2119.3 992.2 2116.4 992.6 2113.4 993.1 2110.4 993.6 2107.5 994.1 2104.5 994.6 2101.6 995.1 2098.6 995.7 2095.7 996.3 2092.8 997.0 2089.8 997.7 2086.9 998.5 2084.0 999.3 2081.2 1000.3 2078.3 1001.3 2075.5 1002.4 2072.7 1003.6 2070.0 1005.0 2067.4 1006.5 2064.8 1008.2 2062.4 1010.2 2060.2 1012.3 2058.2 1014.6 2056.3 1017.0 2054.6 1019.5 2053.4 1022.1 2052.8 1024.7 2053.0 1027.3 2054.0 1029.6 2055.6 1031.8 2057.6 1033.7 2059.8 1035.4 2062.2 1037.1 2064.7 1038.6 2067.2 1040.1 2069.9 1041.4 2072.5 1042.8 2075.2 1044.0 2077.9 1045.2 2080.7 1046.4 2083.4 1047.4 2086.2 1048.5 2089.0 1049.5 2091.9 1050.5 2094.7 1051.5 2097.5 1052.4 2100.4 1053.4 2103.2 1054.3 2106.1 1055.3 2108.9 1056.2 2111.8 1057.1 2114.6 1058.1 2117.5 1059.0 2120.3 1059.9 2123.2 1060.7 2126.1 1061.6 2128.9 1062.4 2131.8 1063.2 2134.7 1063.9 2137.6 1064.7 2140.5 1065.4 2143.4 1066.2 2146.3 1067.0 2149.2 1067.8 2152.1 1068.7 2154.9 1069.7 2157.7 1070.6 2160.6 1071.7 2163.4 1072.8 2166.1 1073.9 2168.9 1075.0 2171.7 1076.2 2174.5 1077.3 2177.2 1078.4 2180.0 1079.5 2182.8 1080.5 2185.6 1081.5 2188.4 1082.5 2191.3 1083.5 2194.1 1084.5 2196.9 1085.4 2199.8 1086.4 2202.6 1087.4 2205.5 1088.4 2208.3 1089.4 2211.1 1090.5 2213.9 1091.6 2216.7 1092.7 2219.4 1093.9 2222.2 1095.2 2224.9 1096.5 2227.6 1097.8 2230.3 1099.1 2233.0 1100.5 2235.7 1101.9 2238.3 1103.3 2241.0 1104.7 2243.6 1106.2 2246.2 1107.6 2248.9 1109.2 2251.4 1110.7 2254.0 1112.2 2256.6 1113.8 2259.1 1115.4 2261.7 1117.0 2264.2 1118.6 2266.7 1120.3 2269.2 1122.0 2271.7 1123.7 2274.2 1125.4 2276.6 1127.2 2279.1 1129.0 2281.5 1130.8 2283.8 1132.7 2286.2 1134.6 2288.5 1136.5 2290.7 1138.5 2292.9 1140.6 2295.1 1142.8 2297.1 1145.0 2299.1 1147.3 2301.1 1149.6 2303.0 1151.9 2304.9 1154.2 2306.8 1156.5 2308.7 1158.8 2310.6 1161.2 2312.5 1163.5 2314.5 1165.8 2316.4 1168.0 2318.3 1170.3 2320.3 1172.6 2322.2 1174.8 2324.2 1177.1 2326.2 1179.3 2328.2 1181.6 2330.2 1183.8 2332.2 1186.0 2334.2 1188.3 2336.2 1190.5 2338.2 1192.7 2340.2 1195.0 2342.2 1197.2 2344.2 1199.5 2346.2 1201.7 2348.1 1204.0 2350.1 1206.3 2352.0 1208.6 2353.9 1211.0 2355.8 1213.3 2357.7 1215.6 2359.6 1218.0 2361.4 1220.4 2363.2 1222.8 2365.0 1225.2 2366.8 1227.6 2368.6 1230.1 2370.3 1232.5 2372.1 1235.0 2373.8 1237.4 2375.5 1239.9 2377.2 1242.4 2378.8 1244.9 2380.4 1247.5 2381.9 1250.1 2383.4 1252.8 2384.8 1255.4 2386.2 1258.1 2387.5 1260.8 2388.8 1263.5 2390.1 1266.2 2391.4 1268.9 2392.6 1271.6 2393.9 1274.4 2395.1 1277.1 2396.4 1279.8 2397.6 1282.5 2398.9 1285.3 2400.1 1288.0 2401.4 1290.7 2402.6 1293.5 2403.8 1296.2 2405.0 1299.0 2406.3 1301.7 2407.5 1304.4 2408.7 1307.2 2409.9 1309.9 2411.1 1312.7 2412.3 1315.4 2413.5 1318.2 2414.7 1320.9 2415.9 1323.7 2417.0 1326.5 2418.2 1329.2 2419.3 1332.0 2420.5 1334.8 2421.6 1337.6 2422.7 1340.4 2423.8 1343.2 2424.8 1346.0 2425.9 1348.8 2426.9 1351.6 2427.9 1354.5 2428.9 1357.3 2429.8 1360.1 2430.7 1363.0 2431.6 1365.9 2432.5 1368.7 2433.3 1371.6 2434.1 1374.5 2434.8 1377.4 2435.6 1380.3 2436.3 1383.2 2436.9 1386.2 2437.6 1389.1 2438.2 1392.0 2438.8 1395.0 2439.3 1397.9 2439.9 1400.9 2440.4 1403.8 2440.9 1406.8 2441.4 1409.7 2441.8 1412.7 2442.3 1415.7 2442.7 1418.6 2443.1 1421.6 2443.5 1424.6 2443.8 1427.6 2444.2 1430.6 2444.5 1433.5 2444.9 1436.5 2445.2 1439.5 2445.5 1442.5 2445.8 1445.5 2446.2 1448.4 2446.5 1451.4 2446.8 1454.4 2447.1 1457.4 2447.3 1460.4 2447.6 1463.4 2447.9 1466.4 2448.2 1469.4 2448.4 1472.3 2448.6 1475.3 2448.9 1478.3 2449.1 1481.3 2449.3 1484.3 2449.5 1487.3 2449.7 1490.3 2449.9 1493.3 2450.1 1496.3 2450.3 1499.3 2450.4 1502.3 2450.6 1505.3 2450.7 1508.3 2450.8 1511.3 2451.0 1514.3 2451.1 1517.3 2451.2 1520.3 2451.3 1523.3 2451.5 1526.3 2451.6 1529.3 2451.7 1532.3 2451.8 1535.2 2451.9 1538.2 2452.0 1541.2 2452.1 1544.2 2452.2 1547.2 2452.3 1550.2 2452.4 1553.2 2452.5 1556.2 2452.6 1559.2 2452.7 1562.2 2452.8 1565.2 2452.9 1568.2 2453.0 1571.2 2453.1 1574.2 2453.2 1577.2 2453.3 1580.2 2453.4 1583.2 2453.4 1586.2 2453.5 1589.2 2453.6 1592.2 2453.7 1595.2 2453.8 1598.2 2453.8 1601.2 2453.9 1604.2 2454.0 1607.2 2454.0 1610.2 2454.1 1613.2 2454.2 1616.2 2454.2 1619.2 2454.3 1622.2 2454.4 1625.2 2454.4 1628.2 2454.5 1631.2 2454.5 1634.2 2454.6 1637.2 2454.6 1640.2 2454.7 1643.2 2454.7 1646.2 2454.8 1649.2 2454.8 1652.2 2454.9 1655.2 2455.0 1658.2 2455.0 1661.2 2455.1 1664.2 2455.1 1667.2 2455.2 1670.2 2455.2 1673.2 2455.3 1676.2 2455.3 1679.1 2455.4 1682.1 2455.4 1685.1 2455.5 1688.1 2455.5 1691.0 2455.6 1694.0 2455.6 1696.9 2455.7 1699.9 2455.7 1702.8 2455.8 1705.8 2455.8 1708.7 2455.9 1711.6 2455.9 1714.5 2456.0 1716.0 2456.0" fill="none" stroke="#000000" stroke-width="7" stroke-linejoin="round" stroke-linecap="round"/>
<path d="M507.0 2457.0 510.0 2456.9 513.0 2456.8 516.0 2456.7 519.0 2456.6 522.0 2456.5 525.0 2456.4 528.0 2456.3 531.0 2456.2 534.0 2456.2 537.0 2456.1 540.0 2456.0 543.0 2455.9 546.0 2455.8 549.0 2455.7 552.0 2455.6 555.0 2455.5 558.0 2455.4 561.0 2455.3 564.0 2455.2 567.0 2455.1 570.0 2455.0 573.0 2454.9 576.0 2454.8 579.0 2454.7 582.0 2454.6 585.0 2454.5 588.0 2454.5 591.0 2454.4 594.0 2454.3 597.0 2454.2 600.0 2454.1 603.0 2454.0 606.0 2453.9 608.9 2453.8 611.9 2453.7 614.9 2453.6 617.9 2453.5 620.9 2453.4 623.9 2453.3 626.9 2453.2 629.9 2453.1 632.9 2453.0 635.9 2452.9 638.9 2452.8 641.9 2452.7 644.9 2452.7 647.9 2452.6 650.9 2452.5 653.9 2452.4 656.9 2452.3 659.9 2452.2 662.9 2452.1 665.9 2452.0 668.9 2451.9 671.9 2451.8 674.9 2451.7 677.9 2451.6 680.9 2451.5 683.9 2451.4 686.9 2451.3 689.9 2451.2 692.9 2451.1 695.9 2451.0 698.9 2450.9 701.9 2450.8 704.9 2450.7 707.9 2450.6 710.9 2450.5 713.9 2450.4 716.9 2450.3 719.9 2450.2 722.9 2450.1 725.9 2450.0 728.9 2449.9 731.9 2449.8 734.9 2449.7 737.9 2449.6 740.9 2449.5 743.9 2449.4 746.9 2449.4 749.9 2449.3 752.9 2449.2 755.9 2449.1 758.9 2449.0 761.9 2448.9 764.9 2448.8 767.9 2448.7 770.9 2448.6 773.9 2448.5 776.9 2448.4 779.9 2448.3 782.9 2448.2 785.9 2448.1 788.9 2448.0 791.9 2447.9 794.9 2447.8 797.9 2447.7 800.8 2447.6 803.8 2447.5 806.8 2447.4 809.8 2447.3 812.8 2447.2 815.8 2447.1 818.8 2447.0 821.8 2446.9 824.8 2446.8 827.8 2446.7 830.8 2446.6 833.8 2446.5 836.8 2446.4 839.8 2446.3 842.8 2446.2 845.8 2446.1 848.8 2446.0 851.8 2445.9 854.8 2445.8 857.8 2445.7 860.8 2445.6 863.8 2445.5 866.8 2445.4 869.8 2445.3 872.8 2445.2 875.8 2445.1 878.8 2445.0 881.8 2444.9 884.8 2444.8 887.8 2444.7 890.8 2444.6 893.8 2444.5 896.8 2444.4 899.8 2444.3 902.8 2444.2 905.8 2444.1 908.8 2444.0 911.8 2443.9 914.8 2443.8 917.8 2443.7 920.8 2443.6 923.8 2443.5 926.8 2443.4 929.8 2443.3 932.8 2443.2 935.8 2443.1 938.8 2443.0 941.8 2442.9 944.8 2442.8 947.8 2442.7 950.8 2442.6 953.8 2442.5 956.8 2442.4 959.8 2442.3 962.8 2442.2 965.8 2442.1 968.8 2442.0 971.8 2441.9 974.8 2441.8 977.8 2441.7 980.8 2441.6 983.7 2441.5 986.7 2441.4 989.7 2441.3 992.7 2441.2 995.7 2441.1 998.7 2441.0 1001.7 2440.9 1004.7 2440.8 1007.7 2440.6 1010.7 2440.5 1013.7 2440.4 1016.7 2440.3 1019.7 2440.1 1022.7 2440.0 1025.7 2439.8 1028.7 2439.6 1031.7 2439.5 1034.7 2439.4 1037.7 2439.3 1040.7 2439.1 1043.7 2438.9 1046.7 2438.7 1049.7 2438.4 1052.6 2438.1 1055.6 2437.8 1058.6 2437.5 1061.6 2437.1 1064.5 2436.7 1067.5 2436.2 1070.4 2435.7 1073.4 2435.1 1076.3 2434.5 1079.2 2433.8 1082.1 2433.0 1084.9 2432.1 1087.7 2431.1 1090.5 2430.0 1093.2 2428.8 1095.8 2427.5 1098.4 2426.0 1100.9 2424.4 1103.3 2422.7 1105.7 2420.9 1108.1 2419.1 1110.4 2417.2 1112.7 2415.3 1115.0 2413.3 1117.2 2411.3 1119.4 2409.3 1121.5 2407.2 1123.6 2405.1 1125.7 2402.9 1127.7 2400.6 1129.6 2398.4 1131.5 2396.1 1133.4 2393.7 1135.2 2391.3 1137.0 2388.9 1138.7 2386.5 1140.4 2384.0 1142.1 2381.5 1143.7 2379.0 1145.3 2376.5 1146.9 2373.9 1148.5 2371.4 1150.0 2368.8 1151.6 2366.2 1153.1 2363.6 1154.5 2361.0 1156.0 2358.4 1157.4 2355.8 1158.8 2353.1 1160.2 2350.4 1161.5 2347.7 1162.8 2345.0 1164.0 2342.3 1165.3 2339.6 1166.5 2336.8 1167.6 2334.1 1168.8 2331.3 1169.9 2328.5 1170.9 2325.7 1172.0 2322.9 1173.0 2320.1 1174.0 2317.3 1175.0 2314.4 1175.9 2311.6 1176.8 2308.7 1177.7 2305.9 1178.6 2303.0 1179.4 2300.1 1180.2 2297.2 1180.9 2294.3 1181.7 2291.4 1182.4 2288.5 1183.1 2285.6 1183.7 2282.7 1184.4 2279.7 1185.0 2276.8 1185.6 2273.9 1186.3 2270.9 1186.9 2268.0 1187.4 2265.1 1188.0 2262.1 1188.6 2259.2 1189.2 2256.2 1189.8 2253.3 1190.4 2250.3 1191.0 2247.4 1191.6 2244.5 1192.3 2241.5 1192.9 2238.6 1193.5 2235.7 1194.2 2232.7 1194.8 2229.8 1195.5 2226.9 1196.1 2224.0 1196.8 2221.0 1197.4 2218.1 1198.1 2215.2 1198.7 2212.2 1199.3 2209.3 1200.0 2206.4 1200.6 2203.4 1201.2 2200.5 1201.9 2197.6 1202.5 2194.6 1203.1 2191.7 1203.7 2188.8 1204.3 2185.8 1204.9 2182.9 1205.5 2179.9 1206.0 2177.0 1206.6 2174.1 1207.1 2171.1 1207.7 2168.2 1208.2 2165.2 1208.7 2162.3 1209.2 2159.3 1209.7 2156.3 1210.2 2153.4 1210.7 2150.4 1211.2 2147.5 1211.6 2144.5 1212.1 2141.5 1212.6 2138.6 1213.0 2135.6 1213.5 2132.6 1213.9 2129.7 1214.4 2126.7 1214.8 2123.7 1215.2 2120.8 1215.7 2117.8 1216.1 2114.8 1216.6 2111.9 1217.0 2108.9 1217.4 2105.9 1217.9 2103.0 1218.3 2100.0 1218.7 2097.0 1219.2 2094.1 1219.6 2091.1 1220.0 2088.1 1220.4 2085.1 1220.8 2082.2 1221.2 2079.2 1221.7 2076.2 1222.1 2073.3 1222.5 2070.3 1222.9 2067.3 1223.4 2064.4 1223.8 2061.4 1224.3 2058.4 1224.8 2055.5 1225.2 2052.5 1225.7 2049.5 1226.2 2046.6 1226.7 2043.6 1227.2 2040.7 1227.7 2037.7 1228.1 2034.7 1228.6 2031.8 1229.1 2028.8 1229.5 2025.8 1230.0 2022.9 1230.4 2019.9 1230.9 2016.9 1231.3 2014.0 1231.7 2011.0 1232.2 2008.0 1232.6 2005.1 1233.0 2002.1 1233.4 1999.1 1233.8 1996.2 1234.3 1993.2 1234.7 1990.2 1235.1 1987.2 1235.5 1984.3 1235.8 1981.3 1236.2 1978.3 1236.6 1975.3 1237.0 1972.4 1237.4 1969.4 1237.8 1966.4 1238.1 1963.4 1238.5 1960.5 1238.9 1957.5 1239.3 1954.5 1239.6 1951.5 1240.0 1948.6 1240.4 1945.6 1240.8 1942.6 1241.1 1939.6 1241.5 1936.7 1241.9 1933.7 1242.3 1930.7 1242.6 1927.7 1243.0 1924.7 1243.4 1921.8 1243.7 1918.8 1244.1 1915.8 1244.5 1912.8 1244.9 1909.9 1245.2 1906.9 1245.6 1903.9 1246.0 1900.9 1246.4 1898.0 1246.7 1895.0 1247.1 1892.0 1247.5 1889.0 1247.8 1886.0 1248.2 1883.1 1248.6 1880.1 1249.0 1877.1 1249.4 1874.1 1249.7 1871.2 1250.1 1868.2 1250.5 1865.2 1250.9 1862.2 1251.2 1859.3 1251.6 1856.3 1252.0 1853.3 1252.4 1850.3 1252.8 1847.4 1253.2 1844.4 1253.6 1841.4 1253.9 1838.4 1254.3 1835.5 1254.7 1832.5 1255.1 1829.5 1255.5 1826.5 1255.9 1823.6 1256.3 1820.6 1256.7 1817.6 1257.1 1814.6 1257.5 1811.7 1257.9 1808.7 1258.4 1805.7 1258.8 1802.8 1259.2 1799.8 1259.6 1796.8 1260.1 1793.9 1260.5 1790.9 1260.9 1787.9 1261.4 1785.0 1261.8 1782.0 1262.2 1779.0 1262.6 1776.0 1263.1 1773.1 1263.5 1770.1 1263.9 1767.1 1264.3 1764.2 1264.7 1761.2 1265.1 1758.2 1265.5 1755.2 1265.8 1752.3 1266.2 1749.3 1266.6 1746.3 1267.0 1743.3 1267.4 1740.4 1267.7 1737.4 1268.1 1734.4 1268.5 1731.4 1268.8 1728.4 1269.2 1725.5 1269.6 1722.5 1270.0 1719.5 1270.3 1716.5 1270.7 1713.6 1271.1 1710.6 1271.4 1707.6 1271.8 1704.6 1272.2 1701.7 1272.6 1698.7 1272.9 1695.7 1273.3 1692.7 1273.7 1689.7 1274.0 1686.8 1274.4 1683.8 1274.8 1680.8 1275.2 1677.8 1275.6 1674.9 1276.0 1671.9 1276.3 1668.9 1276.7 1665.9 1277.2 1663.0 1277.6 1660.0 1278.0 1657.0 1278.4 1654.1 1278.8 1651.1 1279.3 1648.1 1279.7 1645.2 1280.2 1642.2 1280.6 1639.2 1281.1 1636.3 1281.5 1633.3 1282.0 1630.3 1282.4 1627.4 1282.9 1624.4 1283.3 1621.4 1283.8 1618.5 1284.2 1615.5 1284.6 1612.5 1285.1 1609.6 1285.5 1606.6 1285.9 1603.6 1286.3 1600.6 1286.7 1597.7 1287.1 1594.7 1287.4 1591.7 1287.8 1588.8 1288.3 1585.8 1288.7 1582.8 1289.1 1579.8 1289.5 1576.9 1290.0 1573.9 1290.4 1570.9 1290.9 1568.0 1291.4 1565.0 1291.9 1562.1 1292.4 1559.1 1292.9 1556.1 1293.4 1553.2 1293.9 1550.2 1294.5 1547.3 1295.1 1544.4 1295.7 1541.4 1296.3 1538.5 1296.9 1535.5 1297.5 1532.6 1298.2 1529.7 1298.9 1526.8 1299.6 1523.9 1300.4 1521.0 1301.1 1518.1 1301.9 1515.2 1302.8 1512.3 1303.7 1509.4 1304.6 1506.6 1305.5 1503.7 1306.5 1500.9 1307.5 1498.1 1308.5 1495.3 1309.7 1492.5 1310.9 1489.8 1312.2 1487.2 1313.6 1484.6 1315.2 1482.1 1316.9 1479.7 1318.8 1477.4 1320.8 1475.4 1323.1 1473.8 1325.5 1472.6 1328.1 1472.1 1330.6 1472.6 1333.0 1473.8 1335.2 1475.5 1337.2 1477.6 1339.0 1479.9 1340.6 1482.3 1342.1 1484.9 1343.5 1487.5 1344.8 1490.2 1346.0 1492.9 1347.2 1495.7 1348.3 1498.5 1349.3 1501.3 1350.3 1504.1 1351.2 1507.0 1352.1 1509.8 1352.9 1512.7 1353.6 1515.6 1354.3 1518.5 1355.0 1521.4 1355.7 1524.4 1356.3 1527.3 1356.9 1530.2 1357.4 1533.2 1358.0 1536.1 1358.5 1539.1 1359.0 1542.0 1359.5 1545.0 1360.0 1548.0 1360.5 1550.9 1360.9 1553.9 1361.4 1556.8 1361.9 1559.8 1362.3 1562.8 1362.8 1565.7 1363.3 1568.7 1363.7 1571.7 1364.2 1574.6 1364.6 1577.6 1365.1 1580.6 1365.5 1583.5 1366.0 1586.5 1366.5 1589.5 1366.9 1592.4 1367.4 1595.4 1367.9 1598.3 1368.4 1601.3 1368.9 1604.3 1369.4 1607.2 1369.9 1610.2 1370.4 1613.1 1370.9 1616.1 1371.3 1619.1 1371.8 1622.0 1372.3 1625.0 1372.8 1627.9 1373.3 1630.9 1373.8 1633.9 1374.3 1636.8 1374.7 1639.8 1375.2 1642.7 1375.7 1645.7 1376.1 1648.7 1376.6 1651.6 1377.1 1654.6 1377.5 1657.6 1377.9 1660.5 1378.4 1663.5 1378.8 1666.5 1379.2 1669.4 1379.6 1672.4 1380.0 1675.4 1380.4 1678.4 1380.8 1681.3 1381.2 1684.3 1381.6 1687.3 1382.0 1690.3 1382.4 1693.2 1382.8 1696.2 1383.2 1699.2 1383.6 1702.1 1384.0 1705.1 1384.4 1708.1 1384.9 1711.1 1385.3 1714.0 1385.7 1717.0 1386.2 1720.0 1386.6 1722.9 1387.0 1725.9 1387.5 1728.9 1387.9 1731.8 1388.4 1734.8 1388.8 1737.8 1389.3 1740.7 1389.7 1743.7 1390.1 1746.7 1390.6 1749.6 1391.0 1752.6 1391.5 1755.6 1391.9 1758.5 1392.3 1761.5 1392.7 1764.5 1393.1 1767.4 1393.6 1770.4 1394.0 1773.4 1394.4 1776.4 1394.8 1779.3 1395.2 1782.3 1395.6 1785.3 1396.0 1788.2 1396.4 1791.2 1396.8 1794.2 1397.3 1797.1 1397.7 1800.1 1398.2 1803.1 1398.7 1806.0 1399.2 1809.0 1399.8 1811.9 1400.3 1814.9 1400.8 1817.8 1401.3 1820.8 1401.8 1823.7 1402.3 1826.7 1402.8 1829.7 1403.2 1832.6 1403.7 1835.6 1404.1 1838.6 1404.5 1841.5 1404.9 1844.5 1405.3 1847.5 1405.7 1850.4 1406.0 1853.4 1406.4 1856.4 1406.8 1859.4 1407.2 1862.3 1407.6 1865.3 1407.9 1868.3 1408.3 1871.3 1408.7 1874.3 1409.1 1877.2 1409.4 1880.2 1409.8 1883.2 1410.2 1886.2 1410.5 1889.1 1410.9 1892.1 1411.3 1895.1 1411.7 1898.1 1412.0 1901.0 1412.4 1904.0 1412.8 1907.0 1413.1 1910.0 1413.5 1913.0 1413.9 1915.9 1414.3 1918.9 1414.7 1921.9 1415.0 1924.9 1415.4 1927.8 1415.9 1930.8 1416.3 1933.8 1416.7 1936.7 1417.1 1939.7 1417.6 1942.7 1418.0 1945.6 1418.5 1948.6 1419.0 1951.5 1419.5 1954.5 1420.0 1957.4 1420.5 1960.4 1421.1 1963.4 1421.6 1966.3 1422.2 1969.3 1422.7 1972.2 1423.2 1975.1 1423.8 1978.1 1424.3 1981.0 1424.9 1984.0 1425.4 1986.9 1426.0 1989.9 1426.5 1992.8 1427.0 1995.8 1427.5 1998.7 1428.1 2001.7 1428.6 2004.7 1429.0 2007.6 1429.5 2010.6 1430.0 2013.5 1430.4 2016.5 1430.9 2019.5 1431.3 2022.4 1431.8 2025.4 1432.2 2028.4 1432.7 2031.3 1433.1 2034.3 1433.5 2037.3 1433.9 2040.2 1434.3 2043.2 1434.7 2046.2 1435.1 2049.2 1435.6 2052.1 1436.0 2055.1 1436.4 2058.1 1436.8 2061.1 1437.2 2064.0 1437.6 2067.0 1438.0 2070.0 1438.3 2072.9 1438.7 2075.9 1439.1 2078.9 1439.5 2081.9 1439.9 2084.8 1440.3 2087.8 1440.7 2090.8 1441.1 2093.8 1441.5 2096.7 1442.0 2099.7 1442.4 2102.7 1442.8 2105.6 1443.2 2108.6 1443.7 2111.6 1444.1 2114.5 1444.5 2117.5 1445.0 2120.5 1445.5 2123.4 1445.9 2126.4 1446.4 2129.4 1446.9 2132.3 1447.4 2135.3 1447.9 2138.2 1448.4 2141.2 1448.9 2144.2 1449.4 2147.1 1449.8 2150.1 1450.3 2153.0 1450.8 2156.0 1451.3 2159.0 1451.8 2161.9 1452.3 2164.9 1452.8 2167.8 1453.3 2170.8 1453.8 2173.7 1454.3 2176.7 1454.8 2179.7 1455.3 2182.6 1455.8 2185.6 1456.3 2188.5 1456.9 2191.5 1457.4 2194.4 1457.9 2197.4 1458.5 2200.3 1459.0 2203.3 1459.6 2206.2 1460.2 2209.2 1460.7 2212.1 1461.3 2215.1 1461.9 2218.0 1462.5 2220.9 1463.1 2223.9 1463.7 2226.8 1464.3 2229.8 1464.9 2232.7 1465.5 2235.6 1466.1 2238.6 1466.7 2241.5 1467.4 2244.4 1468.0 2247.4 1468.6 2250.3 1469.2 2253.2 1469.9 2256.2 1470.5 2259.1 1471.2 2262.0 1471.8 2265.0 1472.5 2267.9 1473.1 2270.8 1473.8 2273.7 1474.4 2276.7 1475.0 2279.6 1475.6 2282.5 1476.2 2285.5 1476.7 2288.4 1477.3 2291.4 1477.8 2294.3 1478.3 2297.3 1478.9 2300.2 1479.5 2303.2 1480.1 2306.1 1480.7 2309.0 1481.3 2312.0 1482.0 2314.9 1482.7 2317.8 1483.4 2320.7 1484.1 2323.6 1484.9 2326.5 1485.7 2329.4 1486.5 2332.3 1487.3 2335.2 1488.1 2338.1 1488.9 2341.0 1489.8 2343.9 1490.7 2346.7 1491.6 2349.6 1492.5 2352.4 1493.5 2355.3 1494.5 2358.1 1495.5 2360.9 1496.5 2363.7 1497.6 2366.5 1498.7 2369.3 1499.8 2372.1 1501.0 2374.8 1502.2 2377.6 1503.5 2380.3 1504.8 2383.0 1506.1 2385.7 1507.5 2388.3 1508.9 2391.0 1510.4 2393.6 1511.9 2396.2 1513.4 2398.7 1515.1 2401.2 1516.7 2403.7 1518.4 2406.2 1520.2 2408.6 1521.9 2411.0 1523.8 2413.4 1525.7 2415.7 1527.6 2418.0 1529.6 2420.2 1531.6 2422.4 1533.8 2424.5 1535.9 2426.5 1538.1 2428.5 1540.4 2430.4 1542.8 2432.2 1545.2 2434.0 1547.7 2435.6 1550.2 2437.2 1552.8 2438.7 1555.5 2440.1 1558.1 2441.3 1560.9 2442.5 1563.6 2443.6 1566.4 2444.7 1569.3 2445.6 1572.1 2446.4 1575.0 2447.2 1577.9 2447.9 1580.9 2448.6 1583.8 2449.2 1586.7 2449.7 1589.7 2450.3 1592.6 2450.7 1595.6 2451.2 1598.6 2451.6 1601.5 2452.0 1604.5 2452.3 1607.5 2452.7 1610.5 2453.0 1613.5 2453.2 1616.5 2453.5 1619.4 2453.7 1622.4 2453.9 1625.4 2454.0 1628.4 2454.2 1631.4 2454.4 1634.4 2454.5 1637.4 2454.7 1640.4 2454.8 1643.4 2455.0 1646.4 2455.1 1649.4 2455.2 1652.4 2455.3 1655.4 2455.4 1658.4 2455.5 1661.4 2455.6 1664.4 2455.7 1667.4 2455.8 1670.4 2455.9 1673.3 2456.0 1676.3 2456.0 1679.3 2456.1 1682.3 2456.2 1685.2 2456.3 1688.2 2456.3 1691.2 2456.4 1694.1 2456.5 1697.0 2456.6 1700.0 2456.6 1702.9 2456.7 1705.8 2456.8 1708.7 2456.8 1711.6 2456.9 1714.5 2457.0 1716.0 2457.0" fill="none" stroke="#ff0000" stroke-width="7" stroke-linejoin="round" stroke-linecap="round"/>
<path d="M262.0 2457.0 265.0 2456.8 268.0 2456.7 271.0 2456.5 274.0 2456.3 277.0 2456.2 280.0 2456.0 283.0 2455.8 286.0 2455.6 289.0 2455.5 292.0 2455.3 294.9 2455.1 297.9 2455.0 300.9 2454.8 303.9 2454.7 306.9 2454.5 309.9 2454.4 312.9 2454.2 315.9 2454.1 318.9 2453.9 321.9 2453.8 324.9 2453.7 327.9 2453.5 330.9 2453.4 333.9 2453.3 336.9 2453.2 339.9 2453.1 342.9 2453.0 345.9 2452.9 348.9 2452.8 351.9 2452.8 354.9 2452.7 357.9 2452.6 360.9 2452.6 363.9 2452.5 366.9 2452.4 369.9 2452.4 372.9 2452.3 375.9 2452.3 378.9 2452.2 381.9 2452.2 384.9 2452.1 387.9 2452.1 390.9 2452.0 393.9 2451.9 396.9 2451.9 399.9 2451.8 402.9 2451.8 405.9 2451.7 408.9 2451.7 411.9 2451.6 414.9 2451.6 417.9 2451.5 420.9 2451.4 423.9 2451.4 426.9 2451.3 429.9 2451.2 432.9 2451.1 435.9 2451.1 438.9 2451.0 441.9 2450.9 444.9 2450.8 447.9 2450.7 450.9 2450.5 453.8 2450.4 456.8 2450.3 459.8 2450.1 462.8 2450.0 465.8 2449.8 468.8 2449.6 471.8 2449.5 474.8 2449.3 477.8 2449.1 480.8 2448.8 483.8 2448.6 486.8 2448.4 489.7 2448.1 492.7 2447.8 495.7 2447.5 498.7 2447.1 501.6 2446.8 504.6 2446.5 507.6 2446.1 510.5 2445.7 513.5 2445.3 516.4 2444.8 519.4 2444.3 522.3 2443.7 525.2 2443.1 528.1 2442.4 531.0 2441.7 533.9 2441.0 536.8 2440.1 539.7 2439.2 542.5 2438.3 545.4 2437.4 548.2 2436.4 551.0 2435.3 553.8 2434.3 556.6 2433.2 559.4 2432.1 562.1 2430.9 564.9 2429.7 567.6 2428.5 570.3 2427.3 573.0 2426.0 575.7 2424.7 578.4 2423.4 581.1 2422.0 583.7 2420.6 586.3 2419.1 588.9 2417.6 591.4 2416.1 593.9 2414.5 596.4 2412.9 598.9 2411.2 601.3 2409.5 603.7 2407.7 606.1 2405.9 608.4 2404.1 610.8 2402.2 613.1 2400.3 615.3 2398.3 617.6 2396.4 619.8 2394.4 622.1 2392.4 624.3 2390.3 626.4 2388.3 628.6 2386.2 630.7 2384.1 632.8 2382.0 634.9 2379.8 637.0 2377.7 639.0 2375.5 641.0 2373.2 643.0 2371.0 644.9 2368.7 646.7 2366.3 648.6 2364.0 650.4 2361.6 652.2 2359.2 653.9 2356.8 655.7 2354.3 657.4 2351.9 659.1 2349.4 660.8 2346.9 662.5 2344.5 664.1 2342.0 665.8 2339.5 667.4 2337.0 669.1 2334.4 670.7 2331.9 672.3 2329.4 673.9 2326.9 675.5 2324.3 677.1 2321.8 678.7 2319.3 680.3 2316.7 682.0 2314.2 683.6 2311.7 685.3 2309.2 686.9 2306.7 688.6 2304.2 690.3 2301.7 692.0 2299.3 693.7 2296.8 695.4 2294.3 697.1 2291.9 698.8 2289.4 700.6 2287.0 702.3 2284.5 704.0 2282.0 705.7 2279.6 707.4 2277.1 709.1 2274.6 710.8 2272.1 712.5 2269.6 714.1 2267.2 715.8 2264.7 717.5 2262.2 719.2 2259.7 720.9 2257.2 722.6 2254.8 724.2 2252.3 725.9 2249.8 727.6 2247.3 729.3 2244.9 731.1 2242.4 732.8 2239.9 734.5 2237.5 736.2 2235.0 737.9 2232.6 739.6 2230.1 741.3 2227.6 743.0 2225.2 744.7 2222.7 746.4 2220.2 748.1 2217.7 749.8 2215.2 751.4 2212.7 753.0 2210.2 754.7 2207.7 756.3 2205.1 757.8 2202.6 759.4 2200.0 760.9 2197.5 762.5 2194.9 763.9 2192.3 765.4 2189.7 766.8 2187.0 768.3 2184.4 769.6 2181.7 771.0 2179.1 772.4 2176.4 773.7 2173.7 775.1 2171.0 776.4 2168.4 777.8 2165.7 779.1 2163.0 780.4 2160.3 781.8 2157.6 783.1 2154.9 784.5 2152.3 785.8 2149.6 787.2 2146.9 788.6 2144.3 790.0 2141.6 791.4 2139.0 792.9 2136.4 794.5 2133.9 796.1 2131.4 797.9 2129.1 799.8 2126.8 801.8 2124.7 804.0 2122.8 806.4 2121.2 809.1 2119.9 811.8 2118.8 814.7 2118.0 817.6 2117.2 820.5 2116.4 823.3 2115.5 826.2 2114.6 829.0 2113.7 831.8 2112.9 834.7 2112.2 837.5 2111.9 840.3 2111.9 843.2 2112.3 845.9 2113.1 848.5 2114.3 851.0 2115.8 853.3 2117.6 855.6 2119.4 857.9 2121.4 860.2 2123.3 862.4 2125.3 864.6 2127.3 866.8 2129.3 869.0 2131.4 871.1 2133.5 873.2 2135.6 875.2 2137.8 877.1 2140.1 879.0 2142.4 880.8 2144.8 882.6 2147.2 884.3 2149.6 886.0 2152.1 887.7 2154.6 889.3 2157.1 890.9 2159.6 892.5 2162.2 894.0 2164.8 895.6 2167.3 897.1 2169.9 898.6 2172.5 900.1 2175.1 901.7 2177.6 903.2 2180.2 904.8 2182.8 906.4 2185.3 907.9 2187.9 909.5 2190.5 911.0 2193.1 912.6 2195.6 914.1 2198.2 915.6 2200.8 917.2 2203.3 918.7 2205.9 920.2 2208.5 921.7 2211.1 923.2 2213.7 924.7 2216.3 926.1 2219.0 927.6 2221.6 929.0 2224.2 930.4 2226.8 931.9 2229.5 933.3 2232.1 934.7 2234.8 936.1 2237.4 937.5 2240.1 938.8 2242.7 940.2 2245.4 941.6 2248.1 942.9 2250.8 944.3 2253.4 945.6 2256.1 947.0 2258.8 948.3 2261.5 949.7 2264.1 951.0 2266.8 952.4 2269.5 953.7 2272.2 955.1 2274.9 956.4 2277.6 957.8 2280.2 959.1 2282.9 960.5 2285.6 961.8 2288.3 963.2 2290.9 964.6 2293.6 965.9 2296.3 967.3 2298.9 968.7 2301.6 970.1 2304.3 971.4 2306.9 972.8 2309.6 974.3 2312.2 975.7 2314.9 977.1 2317.5 978.6 2320.1 980.0 2322.7 981.5 2325.3 983.0 2327.9 984.5 2330.5 986.0 2333.1 987.6 2335.7 989.2 2338.2 990.8 2340.7 992.4 2343.2 994.0 2345.7 995.7 2348.2 997.4 2350.7 999.2 2353.1 1000.9 2355.5 1002.7 2357.9 1004.5 2360.3 1006.3 2362.7 1008.2 2365.0 1010.0 2367.4 1011.9 2369.7 1013.9 2372.0 1015.8 2374.2 1017.8 2376.5 1019.8 2378.7 1021.8 2381.0 1023.8 2383.2 1025.8 2385.3 1027.9 2387.5 1030.0 2389.6 1032.2 2391.7 1034.3 2393.7 1036.5 2395.8 1038.7 2397.7 1041.0 2399.7 1043.3 2401.6 1045.6 2403.4 1048.0 2405.2 1050.4 2407.0 1052.8 2408.7 1055.3 2410.3 1057.8 2411.8 1060.4 2413.3 1063.0 2414.8 1065.7 2416.2 1068.4 2417.5 1071.1 2418.7 1073.9 2419.8 1076.7 2420.7 1079.6 2421.5 1082.4 2422.2 1085.3 2422.8 1088.3 2423.3 1091.1 2424.0 1094.0 2424.6 1096.9 2425.2 1099.8 2425.8 1102.7 2426.3 1105.7 2426.8 1108.6 2427.2 1111.6 2427.6 1114.5 2427.9 1117.5 2428.2 1120.5 2428.5 1123.4 2428.8 1126.4 2429.1 1129.4 2429.3 1132.4 2429.6 1135.4 2429.8 1138.4 2430.0 1141.4 2430.3 1144.3 2430.5 1147.3 2430.7 1150.3 2430.9 1153.3 2431.1 1156.3 2431.3 1159.3 2431.5 1162.3 2431.7 1165.3 2431.9 1168.3 2432.1 1171.3 2432.3 1174.3 2432.4 1177.3 2432.6 1180.3 2432.8 1183.3 2432.9 1186.3 2433.1 1189.3 2433.3 1192.2 2433.4 1195.2 2433.6 1198.2 2433.7 1201.2 2433.9 1204.2 2434.0 1207.2 2434.2 1210.2 2434.3 1213.2 2434.5 1216.2 2434.7 1219.2 2434.8 1222.2 2435.0 1225.2 2435.1 1228.2 2435.3 1231.2 2435.5 1234.2 2435.6 1237.2 2435.8 1240.2 2436.0 1243.2 2436.2 1246.2 2436.4 1249.2 2436.6 1252.2 2436.8 1255.1 2437.0 1258.1 2437.2 1261.1 2437.4 1264.1 2437.6 1267.1 2437.8 1270.1 2438.0 1273.1 2438.2 1276.1 2438.5 1279.1 2438.7 1282.1 2438.9 1285.1 2439.2 1288.1 2439.4 1291.0 2439.6 1294.0 2439.8 1297.0 2440.1 1300.0 2440.3 1303.0 2440.5 1306.0 2440.8 1309.0 2441.0 1312.0 2441.2 1315.0 2441.4 1318.0 2441.7 1321.0 2441.9 1323.9 2442.1 1326.9 2442.4 1329.9 2442.6 1332.9 2442.8 1335.9 2443.0 1338.9 2443.3 1341.9 2443.5 1344.9 2443.7 1347.9 2443.9 1350.9 2444.1 1353.9 2444.4 1356.9 2444.6 1359.8 2444.8 1362.8 2445.0 1365.8 2445.3 1368.8 2445.5 1371.8 2445.7 1374.8 2445.9 1377.8 2446.1 1380.8 2446.3 1383.8 2446.5 1386.8 2446.7 1389.8 2446.9 1392.8 2447.1 1395.8 2447.3 1398.8 2447.5 1401.7 2447.7 1404.7 2447.9 1407.7 2448.1 1410.7 2448.2 1413.7 2448.4 1416.7 2448.6 1419.7 2448.8 1422.7 2448.9 1425.7 2449.1 1428.7 2449.2 1431.7 2449.4 1434.7 2449.5 1437.7 2449.7 1440.7 2449.9 1443.7 2450.0 1446.7 2450.2 1449.7 2450.3 1452.7 2450.4 1455.7 2450.6 1458.7 2450.7 1461.7 2450.9 1464.7 2451.0 1467.7 2451.1 1470.7 2451.2 1473.6 2451.4 1476.6 2451.5 1479.6 2451.6 1482.6 2451.7 1485.6 2451.8 1488.6 2451.9 1491.6 2452.0 1494.6 2452.1 1497.6 2452.1 1500.6 2452.2 1503.6 2452.3 1506.6 2452.3 1509.6 2452.4 1512.6 2452.5 1515.6 2452.5 1518.6 2452.6 1521.6 2452.6 1524.6 2452.7 1527.6 2452.7 1530.6 2452.8 1533.6 2452.9 1536.6 2452.9 1539.6 2453.0 1542.6 2453.0 1545.6 2453.1 1548.6 2453.1 1551.6 2453.2 1554.6 2453.2 1557.6 2453.3 1560.6 2453.3 1563.6 2453.4 1566.6 2453.4 1569.6 2453.5 1572.6 2453.5 1575.6 2453.6 1578.6 2453.6 1581.6 2453.7 1584.6 2453.7 1587.6 2453.8 1590.6 2453.8 1593.6 2453.9 1596.6 2453.9 1599.6 2454.0 1602.6 2454.0 1605.6 2454.1 1608.6 2454.1 1611.6 2454.2 1614.6 2454.2 1617.6 2454.3 1620.6 2454.3 1623.6 2454.4 1626.6 2454.5 1629.6 2454.5 1632.6 2454.6 1635.6 2454.6 1638.6 2454.7 1641.6 2454.7 1644.6 2454.8 1647.6 2454.8 1650.6 2454.9 1653.6 2454.9 1656.6 2455.0 1659.6 2455.0 1662.6 2455.1 1665.6 2455.1 1668.6 2455.2 1671.6 2455.2 1674.6 2455.3 1677.6 2455.3 1680.5 2455.4 1683.5 2455.4 1686.5 2455.5 1689.5 2455.5 1692.4 2455.6 1695.4 2455.6 1698.4 2455.7 1701.3 2455.7 1704.2 2455.8 1707.2 2455.8 1710.1 2455.9 1713.1 2455.9 1716.0 2456.0" fill="none" stroke="#00ee00" stroke-width="7" stroke-linejoin="round" stroke-linecap="round"/>
<path d="M262.0 2456.0 265.0 2455.8 268.0 2455.6 271.0 2455.4 274.0 2455.2 277.0 2454.9 280.0 2454.7 282.9 2454.5 285.9 2454.3 288.9 2454.1 291.9 2453.9 294.9 2453.6 297.9 2453.4 300.9 2453.2 303.9 2453.0 306.9 2452.7 309.9 2452.5 312.8 2452.2 315.8 2451.9 318.8 2451.5 321.8 2451.1 324.7 2450.6 327.7 2450.1 330.6 2449.6 333.6 2449.0 336.5 2448.4 339.4 2447.7 342.3 2447.1 345.2 2446.4 348.1 2445.6 351.0 2444.8 353.9 2443.9 356.7 2443.0 359.5 2442.0 362.3 2440.9 365.0 2439.8 367.8 2438.6 370.5 2437.3 373.1 2435.9 375.8 2434.5 378.4 2433.1 380.9 2431.5 383.5 2430.0 386.0 2428.4 388.5 2426.8 391.0 2425.1 393.5 2423.4 395.9 2421.6 398.3 2419.8 400.6 2417.9 402.9 2416.0 405.1 2414.1 407.3 2412.0 409.5 2410.0 411.6 2407.8 413.6 2405.7 415.6 2403.4 417.6 2401.2 419.4 2398.8 421.2 2396.5 423.0 2394.0 424.6 2391.6 426.2 2389.1 427.8 2386.5 429.2 2383.9 430.6 2381.3 431.9 2378.6 433.1 2375.9 434.3 2373.1 435.4 2370.4 436.5 2367.6 437.6 2364.8 438.6 2362.0 439.6 2359.2 440.5 2356.3 441.5 2353.5 442.4 2350.6 443.3 2347.8 444.2 2344.9 445.1 2342.0 445.9 2339.2 446.7 2336.3 447.4 2333.4 448.2 2330.5 448.8 2327.6 449.5 2324.6 450.1 2321.7 450.7 2318.8 451.3 2315.8 451.8 2312.9 452.3 2309.9 452.8 2307.0 453.3 2304.0 453.8 2301.1 454.3 2298.1 454.7 2295.1 455.2 2292.2 455.7 2289.2 456.1 2286.3 456.6 2283.3 457.0 2280.3 457.5 2277.4 458.0 2274.4 458.5 2271.4 458.9 2268.5 459.4 2265.5 459.9 2262.6 460.4 2259.6 461.0 2256.7 461.5 2253.7 462.0 2250.8 462.6 2247.8 463.2 2244.9 463.8 2241.9 464.4 2239.0 465.0 2236.1 465.6 2233.1 466.2 2230.2 466.8 2227.2 467.3 2224.3 467.9 2221.4 468.4 2218.4 469.0 2215.5 469.5 2212.5 470.0 2209.6 470.6 2206.6 471.1 2203.6 471.6 2200.7 472.1 2197.7 472.6 2194.8 473.1 2191.8 473.5 2188.8 474.0 2185.9 474.5 2182.9 474.9 2180.0 475.4 2177.0 475.9 2174.0 476.3 2171.1 476.8 2168.1 477.2 2165.1 477.7 2162.2 478.1 2159.2 478.6 2156.2 479.0 2153.3 479.5 2150.3 479.9 2147.3 480.3 2144.4 480.8 2141.4 481.2 2138.4 481.7 2135.5 482.1 2132.5 482.6 2129.5 483.0 2126.6 483.5 2123.6 483.9 2120.6 484.4 2117.7 484.8 2114.7 485.2 2111.7 485.7 2108.8 486.1 2105.8 486.6 2102.8 487.0 2099.9 487.5 2096.9 487.9 2093.9 488.4 2091.0 488.9 2088.0 489.3 2085.0 489.8 2082.1 490.3 2079.1 490.7 2076.2 491.2 2073.2 491.7 2070.2 492.2 2067.3 492.7 2064.3 493.2 2061.4 493.6 2058.4 494.0 2055.4 494.4 2052.5 494.9 2049.5 495.2 2046.5 495.6 2043.5 496.0 2040.6 496.4 2037.6 496.7 2034.6 497.0 2031.6 497.4 2028.6 497.7 2025.7 498.0 2022.7 498.4 2019.7 498.7 2016.7 499.0 2013.7 499.3 2010.7 499.6 2007.8 499.9 2004.8 500.2 2001.8 500.5 1998.8 500.8 1995.8 501.1 1992.8 501.4 1989.8 501.7 1986.9 502.0 1983.9 502.3 1980.9 502.6 1977.9 503.0 1974.9 503.3 1971.9 503.6 1969.0 503.9 1966.0 504.3 1963.0 504.6 1960.0 505.0 1957.0 505.3 1954.1 505.7 1951.1 506.1 1948.1 506.5 1945.2 506.9 1942.2 507.4 1939.2 507.8 1936.3 508.3 1933.3 508.8 1930.3 509.3 1927.4 509.9 1924.5 510.4 1921.5 511.1 1918.6 511.7 1915.7 512.4 1912.8 513.1 1909.9 513.8 1907.0 514.6 1904.1 515.5 1901.2 516.4 1898.4 517.4 1895.6 518.4 1892.8 519.5 1890.1 520.7 1887.3 522.0 1884.7 523.4 1882.1 524.9 1879.6 526.5 1877.2 528.3 1874.9 530.3 1872.9 532.6 1871.2 535.0 1869.8 537.7 1869.0 540.4 1869.0 543.0 1869.8 545.3 1871.1 547.2 1873.0 548.8 1875.2 550.3 1877.6 551.6 1880.2 552.8 1882.9 553.8 1885.6 554.9 1888.4 555.8 1891.2 556.7 1894.0 557.6 1896.8 558.4 1899.7 559.2 1902.6 559.9 1905.5 560.6 1908.4 561.3 1911.3 561.9 1914.3 562.5 1917.2 563.1 1920.1 563.7 1923.1 564.2 1926.0 564.7 1929.0 565.2 1931.9 565.7 1934.9 566.2 1937.8 566.7 1940.8 567.1 1943.8 567.6 1946.7 568.0 1949.7 568.5 1952.7 568.9 1955.6 569.4 1958.6 569.8 1961.6 570.3 1964.5 570.7 1967.5 571.2 1970.5 571.6 1973.4 572.1 1976.4 572.5 1979.4 572.9 1982.3 573.4 1985.3 573.8 1988.3 574.3 1991.2 574.7 1994.2 575.2 1997.2 575.6 2000.1 576.1 2003.1 576.5 2006.1 577.0 2009.0 577.4 2012.0 577.9 2015.0 578.3 2017.9 578.8 2020.9 579.2 2023.9 579.7 2026.8 580.1 2029.8 580.6 2032.8 581.0 2035.7 581.5 2038.7 581.9 2041.7 582.4 2044.6 582.8 2047.6 583.3 2050.5 583.7 2053.5 584.2 2056.5 584.6 2059.4 585.1 2062.4 585.5 2065.4 585.9 2068.4 586.3 2071.3 586.7 2074.3 587.2 2077.3 587.6 2080.2 588.0 2083.2 588.5 2086.2 588.9 2089.1 589.3 2092.1 589.8 2095.1 590.2 2098.0 590.7 2101.0 591.1 2104.0 591.6 2106.9 592.1 2109.9 592.6 2112.9 593.0 2115.8 593.5 2118.8 594.0 2121.7 594.5 2124.7 595.0 2127.7 595.5 2130.6 596.0 2133.6 596.5 2136.5 597.0 2139.5 597.4 2142.5 597.9 2145.4 598.4 2148.4 598.9 2151.3 599.4 2154.3 599.9 2157.3 600.3 2160.2 600.8 2163.2 601.3 2166.1 601.7 2169.1 602.2 2172.1 602.7 2175.0 603.1 2178.0 603.6 2181.0 604.1 2183.9 604.5 2186.9 605.0 2189.8 605.5 2192.8 606.0 2195.8 606.5 2198.7 607.0 2201.7 607.5 2204.6 608.0 2207.6 608.6 2210.5 609.1 2213.5 609.7 2216.4 610.2 2219.4 610.8 2222.3 611.4 2225.3 612.0 2228.2 612.6 2231.1 613.3 2234.1 614.0 2237.0 614.7 2239.9 615.4 2242.8 616.2 2245.7 617.0 2248.6 617.8 2251.5 618.6 2254.4 619.4 2257.2 620.2 2260.1 621.1 2263.0 621.9 2265.9 622.8 2268.7 623.7 2271.6 624.6 2274.5 625.5 2277.3 626.4 2280.2 627.3 2283.0 628.2 2285.9 629.1 2288.8 630.0 2291.6 631.0 2294.5 631.9 2297.3 632.8 2300.2 633.7 2303.0 634.6 2305.9 635.6 2308.7 636.5 2311.6 637.4 2314.4 638.3 2317.3 639.2 2320.2 640.1 2323.0 641.0 2325.9 641.9 2328.7 642.8 2331.6 643.7 2334.5 644.6 2337.3 645.5 2340.2 646.4 2343.0 647.3 2345.9 648.2 2348.7 649.2 2351.6 650.2 2354.4 651.1 2357.2 652.2 2360.0 653.2 2362.8 654.3 2365.6 655.4 2368.4 656.6 2371.1 657.8 2373.9 659.1 2376.6 660.3 2379.3 661.7 2381.9 663.0 2384.6 664.5 2387.2 665.9 2389.7 667.5 2392.3 669.1 2394.8 670.7 2397.3 672.4 2399.7 674.2 2402.1 676.0 2404.4 677.9 2406.7 679.9 2408.9 681.9 2411.0 684.0 2413.1 686.1 2415.2 688.3 2417.1 690.6 2418.9 693.0 2420.7 695.5 2422.3 698.0 2423.8 700.6 2425.2 703.3 2426.5 706.0 2427.8 708.8 2428.9 711.6 2430.0 714.4 2431.0 717.2 2432.0 720.1 2432.9 722.9 2433.8 725.8 2434.6 728.7 2435.4 731.6 2436.1 734.5 2436.8 737.4 2437.5 740.3 2438.1 743.3 2438.7 746.2 2439.3 749.1 2439.9 752.1 2440.4 755.0 2441.0 758.0 2441.5 760.9 2442.0 763.9 2442.5 766.8 2443.0 769.8 2443.4 772.7 2443.9 775.7 2444.3 778.7 2444.7 781.7 2445.1 784.6 2445.4 787.6 2445.8 790.6 2446.1 793.6 2446.5 796.5 2446.8 799.5 2447.1 802.5 2447.4 805.5 2447.7 808.5 2448.0 811.5 2448.3 814.4 2448.6 817.4 2448.9 820.4 2449.1 823.4 2449.4 826.4 2449.7 829.4 2449.9 832.4 2450.2 835.4 2450.4 838.4 2450.6 841.3 2450.8 844.3 2451.0 847.3 2451.2 850.3 2451.4 853.3 2451.6 856.3 2451.7 859.3 2451.9 862.3 2452.0 865.3 2452.2 868.3 2452.3 871.3 2452.4 874.3 2452.5 877.3 2452.7 880.3 2452.8 883.3 2452.9 886.3 2453.0 889.3 2453.1 892.3 2453.2 895.3 2453.3 898.3 2453.4 901.3 2453.5 904.3 2453.6 907.3 2453.7 910.3 2453.8 913.3 2453.9 916.3 2454.0 919.3 2454.1 922.3 2454.2 925.3 2454.3 928.3 2454.4 931.2 2454.5 934.2 2454.6 937.2 2454.7 940.2 2454.7 943.2 2454.8 946.2 2454.9 949.2 2455.0 952.2 2455.0 955.2 2455.1 958.2 2455.2 961.2 2455.2 964.2 2455.3 967.2 2455.3 970.2 2455.4 973.2 2455.4 976.2 2455.4 979.2 2455.5 982.2 2455.5 985.2 2455.5 988.2 2455.5 991.2 2455.5 994.2 2455.5 997.2 2455.6 1000.2 2455.6 1003.2 2455.6 1006.2 2455.6 1009.2 2455.6 1012.2 2455.6 1015.2 2455.6 1018.2 2455.6 1021.2 2455.6 1024.2 2455.6 1027.2 2455.6 1030.2 2455.6 1033.2 2455.6 1036.2 2455.6 1039.2 2455.7 1042.2 2455.7 1045.2 2455.7 1048.2 2455.7 1051.2 2455.7 1054.2 2455.7 1057.2 2455.7 1060.2 2455.7 1063.2 2455.7 1066.2 2455.7 1069.2 2455.7 1072.2 2455.7 1075.2 2455.7 1078.2 2455.7 1081.2 2455.7 1084.2 2455.7 1087.2 2455.8 1090.2 2455.8 1093.2 2455.8 1096.2 2455.8 1099.2 2455.8 1102.2 2455.8 1105.2 2455.8 1108.2 2455.8 1111.2 2455.8 1114.2 2455.8 1117.2 2455.8 1120.2 2455.8 1123.2 2455.8 1126.2 2455.8 1129.2 2455.8 1132.2 2455.8 1135.2 2455.8 1138.2 2455.9 1141.2 2455.9 1144.2 2455.9 1147.2 2455.9 1150.2 2455.9 1153.2 2455.9 1156.2 2455.9 1159.2 2455.9 1162.2 2455.9 1165.2 2455.9 1168.2 2455.9 1171.2 2455.9 1174.2 2455.9 1177.2 2455.9 1180.2 2455.9 1183.2 2455.9 1186.2 2455.9 1189.2 2456.0 1192.2 2456.0 1195.2 2456.0 1198.2 2456.0 1201.2 2456.0 1204.2 2456.0 1207.2 2456.0 1210.2 2456.0 1213.2 2456.0 1216.2 2456.0 1219.2 2456.0 1222.2 2456.0 1225.2 2456.0 1228.2 2456.0 1231.2 2456.0 1234.2 2456.0 1237.2 2456.0 1240.2 2456.1 1243.2 2456.1 1246.2 2456.1 1249.2 2456.1 1252.2 2456.1 1255.2 2456.1 1258.2 2456.1 1261.2 2456.1 1264.2 2456.1 1267.2 2456.1 1270.2 2456.1 1273.2 2456.1 1276.2 2456.1 1279.2 2456.1 1282.2 2456.1 1285.2 2456.1 1288.2 2456.2 1291.2 2456.2 1294.2 2456.2 1297.2 2456.2 1300.2 2456.2 1303.2 2456.2 1306.2 2456.2 1309.2 2456.2 1312.2 2456.2 1315.2 2456.2 1318.2 2456.2 1321.2 2456.2 1324.2 2456.2 1327.2 2456.2 1330.2 2456.2 1333.2 2456.2 1336.2 2456.2 1339.2 2456.3 1342.2 2456.3 1345.2 2456.3 1348.2 2456.3 1351.2 2456.3 1354.2 2456.3 1357.2 2456.3 1360.2 2456.3 1363.2 2456.3 1366.2 2456.3 1369.2 2456.3 1372.2 2456.3 1375.2 2456.3 1378.2 2456.3 1381.2 2456.3 1384.2 2456.3 1387.2 2456.3 1390.2 2456.4 1393.2 2456.4 1396.2 2456.4 1399.2 2456.4 1402.2 2456.4 1405.2 2456.4 1408.2 2456.4 1411.2 2456.4 1414.2 2456.4 1417.2 2456.4 1420.2 2456.4 1423.2 2456.4 1426.2 2456.4 1429.2 2456.4 1432.2 2456.4 1435.2 2456.4 1438.2 2456.4 1441.2 2456.5 1444.2 2456.5 1447.2 2456.5 1450.2 2456.5 1453.2 2456.5 1456.2 2456.5 1459.2 2456.5 1462.2 2456.5 1465.2 2456.5 1468.2 2456.5 1471.2 2456.5 1474.2 2456.5 1477.2 2456.5 1480.2 2456.5 1483.2 2456.5 1486.2 2456.5 1489.2 2456.5 1492.2 2456.6 1495.2 2456.6 1498.2 2456.6 1501.2 2456.6 1504.2 2456.6 1507.2 2456.6 1510.2 2456.6 1513.2 2456.6 1516.2 2456.6 1519.2 2456.6 1522.2 2456.6 1525.2 2456.6 1528.2 2456.6 1531.2 2456.6 1534.2 2456.6 1537.2 2456.6 1540.2 2456.7 1543.2 2456.7 1546.2 2456.7 1549.2 2456.7 1552.2 2456.7 1555.2 2456.7 1558.2 2456.7 1561.2 2456.7 1564.2 2456.7 1567.2 2456.7 1570.2 2456.7 1573.2 2456.7 1576.2 2456.7 1579.2 2456.7 1582.2 2456.7 1585.2 2456.7 1588.2 2456.7 1591.2 2456.8 1594.2 2456.8 1597.2 2456.8 1600.2 2456.8 1603.2 2456.8 1606.2 2456.8 1609.2 2456.8 1612.2 2456.8 1615.2 2456.8 1618.2 2456.8 1621.2 2456.8 1624.2 2456.8 1627.2 2456.8 1630.2 2456.8 1633.2 2456.8 1636.2 2456.8 1639.2 2456.8 1642.2 2456.9 1645.2 2456.9 1648.2 2456.9 1651.2 2456.9 1654.2 2456.9 1657.2 2456.9 1660.2 2456.9 1663.2 2456.9 1666.2 2456.9 1669.2 2456.9 1672.2 2456.9 1675.2 2456.9 1678.1 2456.9 1681.1 2456.9 1684.1 2456.9 1687.0 2456.9 1690.0 2456.9 1692.9 2457.0 1695.8 2457.0 1698.7 2457.0 1701.6 2457.0 1704.5 2457.0 1707.4 2457.0 1710.3 2457.0 1713.1 2457.0 1716.0 2457.0" fill="none" stroke="#0000ff" stroke-width="7" stroke-linejoin="round" stroke-linecap="round"/>
<path d="M262.0 2457.0 265.0 2457.0 268.0 2457.0 271.0 2457.0 274.0 2456.9 277.0 2456.9 280.0 2456.9 283.0 2456.9 286.0 2456.9 289.0 2456.9 292.0 2456.9 295.0 2456.8 298.0 2456.8 301.0 2456.8 304.0 2456.8 307.0 2456.8 310.0 2456.8 313.0 2456.8 316.0 2456.8 319.0 2456.7 322.0 2456.7 325.0 2456.7 328.0 2456.7 331.0 2456.7 334.0 2456.7 337.0 2456.7 340.0 2456.6 343.0 2456.6 346.0 2456.6 349.0 2456.6 352.0 2456.6 355.0 2456.6 358.0 2456.6 361.0 2456.5 364.0 2456.5 367.0 2456.5 370.0 2456.5 373.0 2456.5 376.0 2456.5 379.0 2456.5 382.0 2456.4 385.0 2456.4 388.0 2456.4 391.0 2456.4 394.0 2456.4 397.0 2456.4 400.0 2456.4 403.0 2456.4 406.0 2456.3 409.0 2456.3 412.0 2456.3 415.0 2456.3 418.0 2456.3 421.0 2456.3 424.0 2456.3 427.0 2456.2 430.0 2456.2 433.0 2456.2 436.0 2456.2 439.0 2456.2 442.0 2456.1 445.0 2456.1 448.0 2456.0 451.0 2456.0 454.0 2455.9 457.0 2455.8 460.0 2455.7 463.0 2455.6 465.9 2455.5 468.9 2455.3 471.9 2455.1 474.9 2454.9 477.9 2454.7 480.8 2454.4 483.8 2454.0 486.8 2453.7 489.7 2453.3 492.6 2452.8 495.6 2452.3 498.5 2451.8 501.4 2451.2 504.4 2450.9 507.4 2450.6 510.4 2450.2 513.3 2449.4 516.2 2448.6 519.0 2447.7 521.8 2446.7 524.6 2445.7 527.4 2444.6 530.2 2443.4 532.9 2442.2 535.6 2440.9 538.2 2439.5 540.8 2438.1 543.3 2436.5 545.7 2434.9 548.1 2433.1 550.3 2431.3 552.5 2429.3 554.6 2427.2 556.6 2425.0 558.5 2422.8 560.4 2420.5 562.2 2418.2 564.0 2415.8 565.8 2413.4 567.5 2410.9 569.2 2408.5 570.8 2406.0 572.5 2403.5 574.1 2400.9 575.7 2398.4 577.2 2395.9 578.8 2393.3 580.3 2390.7 581.8 2388.1 583.3 2385.5 584.8 2382.9 586.2 2380.3 587.6 2377.6 589.0 2375.0 590.4 2372.3 591.7 2369.7 593.1 2367.0 594.3 2364.3 595.6 2361.6 596.8 2358.8 597.9 2356.1 599.1 2353.3 600.1 2350.5 601.2 2347.7 602.2 2344.9 603.1 2342.1 604.0 2339.2 604.9 2336.4 605.8 2333.5 606.6 2330.6 607.4 2327.7 608.2 2324.8 608.9 2321.9 609.7 2319.0 610.4 2316.1 611.1 2313.2 611.8 2310.3 612.5 2307.4 613.1 2304.5 613.8 2301.5 614.5 2298.6 615.1 2295.7 615.7 2292.7 616.4 2289.8 617.0 2286.9 617.7 2284.0 618.3 2281.0 618.9 2278.1 619.5 2275.2 620.1 2272.2 620.6 2269.3 621.1 2266.3 621.6 2263.4 622.0 2260.4 622.4 2257.5 622.8 2254.5 623.2 2251.5 623.5 2248.6 623.8 2245.6 624.1 2242.6 624.3 2239.6 624.6 2236.6 624.8 2233.6 625.1 2230.7 625.3 2227.7 625.5 2224.7 625.8 2221.7 626.0 2218.7 626.3 2215.7 626.5 2212.7 626.8 2209.7 627.0 2206.8 627.3 2203.8 627.6 2200.8 627.9 2197.8 628.2 2194.8 628.5 2191.8 628.8 2188.8 629.1 2185.9 629.5 2182.9 629.8 2179.9 630.1 2176.9 630.5 2174.0 630.9 2171.0 631.3 2168.0 631.7 2165.0 632.1 2162.1 632.5 2159.1 633.0 2156.1 633.4 2153.2 633.9 2150.2 634.4 2147.3 634.9 2144.3 635.4 2141.3 636.0 2138.4 636.5 2135.4 637.1 2132.5 637.7 2129.6 638.2 2126.6 638.8 2123.7 639.4 2120.7 640.0 2117.8 640.5 2114.8 641.1 2111.9 641.7 2108.9 642.3 2106.0 642.8 2103.1 643.4 2100.1 644.0 2097.2 644.6 2094.2 645.3 2091.3 645.9 2088.4 646.6 2085.5 647.3 2082.6 648.1 2079.7 648.8 2076.8 649.6 2073.9 650.4 2071.0 651.2 2068.1 651.9 2065.2 652.7 2062.3 653.5 2059.4 654.3 2056.5 655.1 2053.6 655.9 2050.7 656.6 2047.8 657.4 2044.9 658.1 2042.0 658.9 2039.1 659.6 2036.2 660.3 2033.2 661.0 2030.3 661.7 2027.4 662.3 2024.5 663.0 2021.6 663.6 2018.6 664.2 2015.7 664.7 2012.8 665.3 2009.8 665.8 2006.9 666.3 2003.9 666.7 2000.9 667.1 1998.0 667.5 1995.0 667.9 1992.4 668.7 1992.3 669.7 1994.7 670.8 1997.5 671.8 2000.4 672.6 2003.3 673.4 2006.2 674.1 2009.0 674.8 2011.9 675.5 2014.8 676.1 2017.7 676.7 2020.6 677.2 2023.6 677.7 2026.5 678.2 2029.5 678.7 2032.4 679.1 2035.4 679.6 2038.4 680.0 2041.3 680.4 2044.3 680.8 2047.3 681.2 2050.3 681.5 2053.2 681.9 2056.2 682.3 2059.2 682.6 2062.2 682.9 2065.2 683.3 2068.1 683.6 2071.1 683.9 2074.1 684.2 2077.1 684.5 2080.1 684.8 2083.1 685.1 2086.0 685.4 2089.0 685.7 2092.0 685.9 2095.0 686.2 2098.0 686.4 2101.0 686.7 2104.0 686.9 2107.0 687.2 2109.9 687.4 2112.9 687.7 2115.9 687.9 2118.9 688.2 2121.9 688.4 2124.9 688.6 2127.9 688.9 2130.9 689.1 2133.9 689.4 2136.9 689.6 2139.8 689.9 2142.8 690.1 2145.8 690.4 2148.8 690.7 2151.8 690.9 2154.8 691.2 2157.8 691.5 2160.8 691.8 2163.7 692.1 2166.7 692.5 2169.7 692.8 2172.7 693.1 2175.7 693.5 2178.6 693.8 2181.6 694.2 2184.6 694.6 2187.6 694.9 2190.5 695.3 2193.5 695.7 2196.5 696.1 2199.5 696.5 2202.4 696.9 2205.4 697.3 2208.4 697.7 2211.4 698.1 2214.3 698.5 2217.3 698.9 2220.3 699.3 2223.3 699.7 2226.2 700.1 2229.2 700.5 2232.2 700.9 2235.1 701.3 2238.1 701.7 2241.1 702.1 2244.1 702.5 2247.0 702.9 2250.0 703.4 2253.0 703.8 2255.9 704.2 2258.9 704.6 2261.9 705.1 2264.8 705.6 2267.8 706.0 2270.8 706.5 2273.7 707.0 2276.6 707.6 2279.6 708.2 2282.5 708.7 2285.4 709.4 2288.4 710.0 2291.3 710.7 2294.2 711.4 2297.1 712.1 2300.0 712.9 2302.9 713.7 2305.7 714.5 2308.6 715.4 2311.4 716.3 2314.2 717.3 2317.0 718.4 2319.8 719.5 2322.5 720.7 2325.2 721.9 2327.9 723.3 2330.5 724.8 2333.0 726.3 2335.5 728.0 2337.9 729.8 2340.2 731.7 2342.5 733.7 2344.6 735.8 2346.7 737.9 2348.7 740.2 2350.6 742.6 2352.3 745.0 2354.1 747.5 2355.8 749.9 2357.5 752.4 2359.2 754.8 2360.9 757.3 2362.6 759.7 2364.4 762.1 2366.1 764.5 2367.9 766.9 2369.7 769.3 2371.5 771.7 2373.3 774.2 2375.0 776.6 2376.7 779.1 2378.3 781.7 2380.0 784.2 2381.5 786.8 2383.0 789.4 2384.5 792.0 2385.9 794.7 2387.3 797.4 2388.6 800.1 2389.9 802.8 2391.1 805.6 2392.3 808.3 2393.5 811.1 2394.7 813.8 2395.9 816.6 2397.0 819.3 2398.2 822.1 2399.4 824.9 2400.5 827.6 2401.7 830.4 2402.9 833.1 2404.2 835.8 2405.4 838.5 2406.7 841.2 2408.1 843.8 2409.4 846.5 2410.8 849.1 2412.2 851.8 2413.6 854.4 2415.1 857.1 2416.5 859.7 2417.8 862.4 2419.2 865.1 2420.5 867.8 2421.8 870.5 2423.1 873.2 2424.4 875.9 2425.6 878.7 2426.7 881.5 2427.9 884.2 2429.0 887.0 2430.1 889.8 2431.2 892.6 2432.2 895.5 2433.2 898.3 2434.2 901.1 2435.1 904.0 2436.1 906.8 2437.0 909.7 2437.8 912.6 2438.7 915.5 2439.5 918.3 2440.3 921.2 2441.1 924.1 2441.8 927.1 2442.5 930.0 2443.2 932.9 2443.8 935.8 2444.5 938.8 2445.1 941.7 2445.7 944.6 2446.2 947.6 2446.8 950.5 2447.3 953.5 2447.8 956.4 2448.2 959.4 2448.7 962.4 2449.0 965.4 2449.4 968.3 2449.7 971.3 2450.0 974.3 2450.3 977.3 2450.6 980.3 2450.8 983.2 2451.1 986.2 2451.3 989.2 2451.6 992.2 2451.8 995.2 2451.9 998.2 2452.1 1001.2 2452.3 1004.2 2452.4 1007.2 2452.6 1010.2 2452.7 1013.2 2452.8 1016.2 2452.9 1019.2 2453.0 1022.2 2453.0 1025.2 2453.1 1028.2 2453.2 1031.1 2453.3 1034.1 2453.3 1037.1 2453.4 1040.1 2453.4 1043.1 2453.5 1046.1 2453.5 1049.1 2453.6 1052.1 2453.6 1055.1 2453.7 1058.1 2453.7 1061.1 2453.8 1064.1 2453.8 1067.1 2453.9 1070.1 2453.9 1073.1 2454.0 1076.1 2454.0 1079.1 2454.1 1082.1 2454.1 1085.1 2454.1 1088.1 2454.2 1091.1 2454.2 1094.1 2454.3 1097.1 2454.3 1100.1 2454.3 1103.1 2454.4 1106.1 2454.4 1109.1 2454.4 1112.1 2454.5 1115.1 2454.5 1118.1 2454.5 1121.1 2454.6 1124.1 2454.6 1127.1 2454.6 1130.1 2454.6 1133.1 2454.7 1136.1 2454.7 1139.1 2454.7 1142.1 2454.7 1145.1 2454.8 1148.1 2454.8 1151.1 2454.8 1154.1 2454.8 1157.1 2454.9 1160.1 2454.9 1163.1 2454.9 1166.1 2454.9 1169.1 2455.0 1172.1 2455.0 1175.1 2455.0 1178.1 2455.0 1181.1 2455.0 1184.1 2455.1 1187.1 2455.1 1190.1 2455.1 1193.1 2455.1 1196.1 2455.2 1199.1 2455.2 1202.1 2455.2 1205.1 2455.2 1208.1 2455.3 1211.1 2455.3 1214.1 2455.3 1217.1 2455.3 1220.1 2455.4 1223.1 2455.4 1226.1 2455.4 1229.1 2455.4 1232.1 2455.5 1235.1 2455.5 1238.1 2455.5 1241.1 2455.5 1244.1 2455.6 1247.1 2455.6 1250.1 2455.6 1253.1 2455.6 1256.1 2455.6 1259.1 2455.7 1262.1 2455.7 1265.1 2455.7 1268.1 2455.7 1271.1 2455.8 1274.1 2455.8 1277.1 2455.8 1280.1 2455.8 1283.1 2455.8 1286.1 2455.9 1289.1 2455.9 1292.1 2455.9 1295.1 2455.9 1298.1 2455.9 1301.1 2456.0 1304.1 2456.0 1307.1 2456.0 1310.1 2456.0 1313.1 2456.0 1316.1 2456.0 1319.1 2456.0 1322.1 2456.0 1325.1 2456.1 1328.1 2456.1 1331.1 2456.1 1334.1 2456.1 1337.1 2456.1 1340.1 2456.1 1343.1 2456.1 1346.1 2456.1 1349.1 2456.1 1352.1 2456.1 1355.1 2456.1 1358.1 2456.1 1361.1 2456.1 1364.1 2456.2 1367.1 2456.2 1370.1 2456.2 1373.1 2456.2 1376.1 2456.2 1379.1 2456.2 1382.1 2456.2 1385.1 2456.2 1388.1 2456.2 1391.1 2456.2 1394.1 2456.2 1397.1 2456.2 1400.1 2456.2 1403.1 2456.2 1406.1 2456.3 1409.1 2456.3 1412.1 2456.3 1415.1 2456.3 1418.1 2456.3 1421.1 2456.3 1424.1 2456.3 1427.1 2456.3 1430.1 2456.3 1433.1 2456.3 1436.1 2456.3 1439.1 2456.3 1442.1 2456.3 1445.1 2456.3 1448.1 2456.4 1451.1 2456.4 1454.1 2456.4 1457.1 2456.4 1460.1 2456.4 1463.1 2456.4 1466.1 2456.4 1469.1 2456.4 1472.1 2456.4 1475.1 2456.4 1478.1 2456.4 1481.1 2456.4 1484.1 2456.4 1487.1 2456.4 1490.1 2456.5 1493.1 2456.5 1496.1 2456.5 1499.1 2456.5 1502.1 2456.5 1505.1 2456.5 1508.1 2456.5 1511.1 2456.5 1514.1 2456.5 1517.1 2456.5 1520.1 2456.5 1523.1 2456.5 1526.1 2456.5 1529.1 2456.6 1532.1 2456.6 1535.1 2456.6 1538.1 2456.6 1541.1 2456.6 1544.1 2456.6 1547.1 2456.6 1550.1 2456.6 1553.1 2456.6 1556.1 2456.6 1559.1 2456.6 1562.1 2456.6 1565.1 2456.6 1568.1 2456.6 1571.1 2456.7 1574.1 2456.7 1577.1 2456.7 1580.1 2456.7 1583.1 2456.7 1586.1 2456.7 1589.1 2456.7 1592.1 2456.7 1595.1 2456.7 1598.1 2456.7 1601.1 2456.7 1604.1 2456.7 1607.1 2456.7 1610.1 2456.7 1613.1 2456.8 1616.1 2456.8 1619.1 2456.8 1622.1 2456.8 1625.1 2456.8 1628.1 2456.8 1631.1 2456.8 1634.1 2456.8 1637.1 2456.8 1640.1 2456.8 1643.1 2456.8 1646.1 2456.8 1649.1 2456.8 1652.1 2456.8 1655.1 2456.9 1658.1 2456.9 1661.1 2456.9 1664.1 2456.9 1667.1 2456.9 1670.1 2456.9 1673.1 2456.9 1676.1 2456.9 1679.1 2456.9 1682.1 2456.9 1685.0 2456.9 1688.0 2456.9 1691.0 2456.9 1693.9 2456.9 1696.9 2457.0 1699.8 2457.0 1702.8 2457.0 1705.7 2457.0 1708.7 2457.0 1711.6 2457.0 1714.5 2457.0 1716.0 2457.0" fill="none" stroke="#00ffff" stroke-width="7" stroke-linejoin="round" stroke-linecap="round"/>
<path d="M317.0 3231.5C364.2 3231.5 511.2 3230.8 600.0 3231.5C688.8 3232.2 804.0 3234.6 850.0 3236.0C896.0 3237.4 867.3 3238.1 875.9 3240.0C884.5 3241.9 895.3 3245.1 901.8 3247.7C908.3 3250.3 910.5 3253.2 914.8 3255.4C919.1 3257.6 923.0 3258.4 927.7 3260.6C932.5 3262.8 938.1 3265.8 943.3 3268.4C948.5 3271.0 954.0 3274.0 958.8 3276.2C963.5 3278.3 967.9 3279.2 971.8 3281.3C975.7 3283.5 979.1 3285.7 982.1 3289.1C985.1 3292.5 986.5 3299.8 989.9 3302.0C993.3 3304.2 999.3 3299.8 1002.8 3302.0C1006.2 3304.2 1008.4 3311.1 1010.6 3315.0C1012.8 3318.9 1013.8 3325.4 1015.8 3325.4C1017.8 3325.4 1020.1 3321.1 1022.3 3315.0C1024.5 3308.9 1026.4 3296.9 1028.8 3289.1C1031.2 3281.3 1033.9 3275.3 1036.5 3268.4C1039.1 3261.5 1041.7 3255.0 1044.3 3247.7C1046.9 3240.4 1049.8 3230.9 1052.0 3224.4C1054.2 3217.9 1055.1 3214.4 1057.3 3208.8C1059.5 3203.2 1062.0 3196.3 1065.0 3190.7C1068.0 3185.1 1072.4 3180.3 1075.4 3175.1C1078.4 3169.9 1079.8 3163.3 1083.2 3159.6C1086.7 3155.9 1091.8 3155.3 1096.1 3153.1C1100.4 3150.9 1105.8 3145.5 1109.0 3146.6C1112.2 3147.7 1112.7 3156.6 1115.5 3159.6C1118.3 3162.6 1122.0 3162.4 1125.9 3164.8C1129.8 3167.2 1135.5 3173.6 1138.9 3173.8C1142.4 3174.0 1143.6 3166.4 1146.6 3166.0C1149.6 3165.6 1153.1 3169.0 1157.0 3171.2C1160.9 3173.4 1164.4 3176.6 1170.0 3179.0C1175.6 3181.4 1182.9 3184.2 1190.7 3185.5C1198.5 3186.8 1209.7 3186.6 1216.6 3186.8C1223.5 3187.0 1226.9 3185.5 1232.1 3186.8C1237.3 3188.1 1241.7 3192.4 1247.7 3194.6C1253.8 3196.8 1261.9 3198.4 1268.4 3199.7C1274.9 3201.0 1280.0 3202.6 1286.5 3202.3C1293.0 3202.0 1301.2 3198.1 1307.3 3197.9C1313.3 3197.7 1317.6 3199.6 1322.8 3201.0C1328.0 3202.4 1332.3 3204.9 1338.3 3206.2C1344.3 3207.5 1351.2 3208.2 1359.0 3208.8C1366.8 3209.5 1378.2 3209.2 1385.0 3210.1C1391.8 3211.0 1389.2 3212.7 1400.0 3214.0C1410.8 3215.3 1433.3 3216.7 1450.0 3218.0C1466.7 3219.3 1483.3 3220.7 1500.0 3222.0C1516.7 3223.3 1530.0 3224.7 1550.0 3226.0C1570.0 3227.3 1592.8 3229.2 1620.0 3230.0C1647.2 3230.8 1697.5 3230.8 1713.0 3231.0" fill="none" stroke="#000000" stroke-width="6.5" stroke-linejoin="round" stroke-linecap="round"/>
<path d="M317.0 3236.0C344.2 3237.0 434.5 3240.6 480.0 3242.0C525.5 3243.4 528.3 3243.6 590.0 3244.5C651.7 3245.4 789.4 3246.9 850.0 3247.7C910.6 3248.4 919.1 3248.6 953.6 3249.0C988.1 3249.4 1035.7 3249.9 1057.3 3250.3C1078.9 3250.7 1076.3 3250.8 1083.2 3251.6C1090.1 3252.4 1093.5 3253.5 1098.7 3255.4C1103.9 3257.3 1108.8 3259.5 1114.2 3263.0C1119.6 3266.5 1126.1 3271.4 1131.0 3276.2C1135.9 3281.0 1139.6 3286.1 1143.5 3291.7C1147.4 3297.3 1150.9 3302.9 1154.4 3309.8C1158.0 3316.7 1161.8 3325.8 1164.8 3333.2C1167.8 3340.5 1170.0 3346.1 1172.5 3353.9C1175.0 3361.7 1177.5 3369.7 1179.5 3379.8C1181.5 3389.9 1182.2 3402.9 1184.5 3414.5C1186.8 3426.1 1190.6 3438.2 1193.2 3449.1C1195.8 3460.0 1197.8 3469.3 1200.1 3480.2C1202.4 3491.1 1204.7 3503.8 1207.0 3514.7C1209.3 3525.6 1211.9 3535.7 1213.9 3545.8C1215.9 3555.9 1216.8 3567.1 1219.1 3575.2C1221.4 3583.3 1225.1 3589.3 1227.7 3594.2C1230.3 3599.1 1232.6 3598.5 1234.6 3604.5C1236.6 3610.5 1237.8 3621.8 1239.8 3630.4C1241.8 3639.0 1244.7 3647.7 1246.7 3656.3C1248.7 3664.9 1249.9 3674.1 1251.9 3682.2C1253.9 3690.3 1255.6 3700.7 1258.8 3704.7C1262.0 3708.7 1267.2 3706.4 1270.9 3706.4C1274.7 3706.4 1278.4 3709.6 1281.3 3704.7C1284.2 3699.8 1285.9 3686.5 1288.2 3677.0C1290.5 3667.5 1293.4 3658.3 1295.1 3647.7C1296.8 3637.1 1297.3 3624.7 1298.5 3613.2C1299.7 3601.7 1300.8 3590.1 1302.0 3578.6C1303.2 3567.1 1304.2 3555.6 1305.4 3544.1C1306.6 3532.6 1307.8 3521.0 1308.9 3509.5C1310.1 3498.0 1311.2 3486.5 1312.3 3475.0C1313.4 3463.5 1314.5 3451.9 1315.8 3440.4C1317.1 3428.9 1318.7 3416.0 1320.1 3405.9C1321.5 3395.8 1323.1 3390.0 1324.4 3380.0C1325.7 3370.0 1326.5 3360.4 1328.0 3346.1C1329.5 3331.8 1331.5 3311.6 1333.2 3294.3C1334.9 3277.0 1336.8 3257.6 1338.3 3242.5C1339.8 3227.4 1340.9 3218.7 1342.2 3203.6C1343.5 3188.5 1344.5 3169.1 1346.1 3151.8C1347.7 3134.5 1350.2 3118.3 1352.0 3100.0C1353.8 3081.7 1355.5 3060.1 1357.1 3041.8C1358.7 3023.5 1360.2 3007.3 1361.5 2990.0C1362.8 2972.7 1363.6 2952.6 1364.9 2938.2C1366.2 2923.8 1367.8 2915.1 1369.2 2903.6C1370.6 2892.1 1371.9 2880.6 1373.5 2869.1C1375.1 2857.6 1376.8 2845.4 1378.7 2834.5C1380.6 2823.6 1383.5 2809.4 1384.9 2803.6C1386.3 2797.8 1385.7 2800.4 1386.9 2799.5C1388.1 2798.6 1390.7 2801.2 1392.1 2798.4C1393.5 2795.6 1394.2 2788.6 1395.2 2782.9C1396.2 2777.2 1397.1 2769.4 1398.3 2764.2C1399.5 2759.0 1401.1 2755.1 1402.5 2751.8C1403.9 2748.5 1405.0 2747.0 1406.6 2744.6C1408.1 2742.2 1409.9 2739.9 1411.8 2737.3C1413.7 2734.7 1415.9 2731.1 1418.0 2729.0C1420.1 2726.9 1422.1 2725.4 1424.2 2724.9C1426.3 2724.4 1428.9 2724.0 1430.5 2725.9C1432.1 2727.8 1432.6 2732.3 1433.6 2736.3C1434.6 2740.3 1435.3 2745.7 1436.7 2749.7C1438.1 2753.7 1440.5 2756.6 1441.9 2760.1C1443.3 2763.6 1444.0 2765.8 1445.0 2770.5C1446.0 2775.2 1447.1 2782.6 1448.1 2788.1C1449.1 2793.6 1449.8 2795.9 1451.2 2803.6C1452.6 2811.3 1454.4 2823.6 1456.4 2834.5C1458.4 2845.4 1461.1 2857.6 1463.4 2869.1C1465.7 2880.6 1468.0 2890.6 1470.3 2903.6C1472.6 2916.6 1474.9 2933.9 1477.2 2946.8C1479.5 2959.8 1481.8 2972.7 1484.1 2981.3C1486.4 2989.9 1488.7 2991.4 1491.0 2998.6C1493.3 3005.8 1495.6 3015.9 1497.9 3024.5C1500.2 3033.1 1502.7 3041.8 1504.8 3050.4C1506.9 3059.0 1509.0 3068.6 1510.5 3076.0C1512.0 3083.4 1512.2 3087.3 1514.0 3095.0C1515.8 3102.7 1518.9 3114.2 1521.5 3122.2C1524.1 3130.2 1526.6 3136.0 1529.7 3142.9C1532.8 3149.8 1536.3 3156.7 1540.1 3163.6C1543.9 3170.5 1548.0 3178.2 1552.5 3184.4C1557.0 3190.6 1561.8 3196.1 1567.0 3200.9C1572.2 3205.7 1577.4 3210.3 1583.6 3213.4C1589.8 3216.5 1597.5 3218.1 1604.4 3219.6C1611.3 3221.1 1618.2 3221.8 1625.1 3222.7C1632.0 3223.6 1631.1 3224.1 1645.8 3224.8C1660.5 3225.5 1701.8 3226.6 1713.0 3227.0" fill="none" stroke="#ff0000" stroke-width="6.5" stroke-linejoin="round" stroke-linecap="round"/>
<path d="M317.8 3235.5C323.0 3235.9 339.4 3237.1 348.9 3238.0C358.4 3238.9 366.2 3239.5 374.8 3240.7C383.4 3241.9 393.4 3245.1 400.7 3245.3C408.0 3245.5 414.1 3241.5 418.8 3242.0C423.6 3242.5 424.9 3246.5 429.2 3248.4C433.5 3250.3 439.5 3252.3 444.7 3253.6C449.9 3254.9 456.0 3254.5 460.3 3256.2C464.6 3257.9 467.2 3258.8 470.6 3264.0C474.1 3269.2 477.6 3279.5 481.0 3287.3C484.4 3295.1 487.9 3302.0 491.3 3310.6C494.8 3319.2 498.2 3329.9 501.7 3339.0C505.1 3348.1 509.0 3356.8 512.0 3365.0C515.0 3373.2 517.2 3382.2 519.8 3388.3C522.4 3394.4 525.0 3397.9 527.6 3401.3C530.2 3404.8 532.6 3405.8 535.4 3409.0C538.2 3412.2 541.7 3419.8 544.5 3420.7C547.3 3421.6 549.8 3420.4 552.2 3414.2C554.6 3407.9 556.2 3394.7 558.7 3383.2C561.2 3371.7 564.5 3356.2 567.0 3345.0C569.5 3333.8 571.8 3327.0 574.0 3316.0C576.2 3305.0 578.4 3292.3 580.5 3279.0C582.6 3265.7 584.3 3250.8 586.5 3236.0C588.7 3221.2 591.1 3205.9 593.5 3190.0C595.9 3174.1 598.2 3156.2 600.7 3140.6C603.2 3125.0 605.9 3110.9 608.5 3096.6C611.1 3082.3 613.7 3063.2 616.3 3055.0C618.9 3046.8 621.6 3051.3 624.0 3047.4C626.4 3043.5 628.3 3031.4 630.5 3031.8C632.7 3032.2 634.8 3044.4 637.0 3050.0C639.2 3055.6 640.9 3061.6 643.5 3065.5C646.1 3069.4 649.3 3068.6 652.5 3073.3C655.7 3078.1 659.4 3086.7 662.9 3094.0C666.4 3101.3 669.8 3109.5 673.3 3117.3C676.8 3125.1 680.1 3135.0 683.6 3140.6C687.1 3146.2 691.0 3146.7 694.0 3151.0C697.0 3155.3 699.2 3160.9 701.8 3166.5C704.4 3172.1 706.5 3179.5 709.5 3184.7C712.5 3189.9 716.0 3194.1 719.9 3197.6C723.8 3201.1 728.5 3202.4 732.8 3205.4C737.1 3208.4 741.0 3213.2 745.8 3215.8C750.5 3218.4 754.4 3219.5 761.3 3221.0C768.2 3222.5 776.5 3223.9 787.3 3224.8C798.1 3225.7 813.0 3225.9 826.0 3226.5C839.0 3227.1 852.4 3227.6 865.0 3228.5C877.6 3229.4 879.3 3231.2 901.8 3232.0C924.3 3232.8 864.8 3232.8 1000.0 3233.0C1135.2 3233.2 1594.2 3233.4 1713.0 3233.5" fill="none" stroke="#00ee00" stroke-width="6.5" stroke-linejoin="round" stroke-linecap="round"/>
<path d="M317.0 3236.0C354.2 3236.1 499.5 3236.1 540.0 3236.5C580.5 3236.9 552.4 3237.2 560.0 3238.5C567.6 3239.8 579.0 3242.2 585.9 3244.0C592.8 3245.8 596.8 3247.5 601.5 3249.2C606.2 3250.9 610.1 3253.3 614.4 3254.4C618.7 3255.5 623.1 3253.5 627.4 3255.7C631.7 3257.9 636.0 3264.6 640.3 3267.4C644.6 3270.2 649.4 3271.2 653.3 3272.5C657.2 3273.8 659.3 3274.2 663.6 3275.1C667.9 3276.0 674.0 3276.0 679.2 3277.7C684.4 3279.4 690.4 3283.1 694.7 3285.5C699.0 3287.9 701.7 3292.0 705.1 3292.0C708.5 3292.0 711.5 3285.5 715.4 3285.5C719.3 3285.5 724.1 3289.8 728.4 3292.0C732.7 3294.2 737.4 3298.2 741.3 3298.4C745.2 3298.6 747.4 3293.1 751.7 3293.3C756.0 3293.5 763.0 3300.6 767.3 3299.7C771.6 3298.8 774.1 3289.1 777.6 3288.0C781.1 3286.9 785.0 3291.1 788.0 3293.3C791.0 3295.5 792.8 3300.8 795.8 3301.0C798.8 3301.2 802.2 3296.1 806.1 3294.6C810.0 3293.1 814.7 3292.4 819.0 3292.0C823.3 3291.6 828.5 3294.4 832.0 3292.0C835.5 3289.6 836.8 3282.2 839.8 3277.7C842.8 3273.2 846.3 3267.2 850.2 3264.8C854.1 3262.4 859.6 3265.2 863.0 3263.2C866.4 3261.2 867.7 3257.1 870.7 3252.8C873.7 3248.5 877.2 3240.8 881.1 3237.3C885.0 3233.9 890.1 3234.2 894.0 3232.1C897.9 3229.9 901.8 3228.7 904.4 3224.4C907.0 3220.1 907.4 3209.7 909.6 3206.2C911.8 3202.7 914.4 3203.2 917.4 3203.6C920.4 3204.0 924.7 3210.1 927.7 3208.8C930.7 3207.5 932.5 3198.9 935.5 3195.9C938.5 3192.9 942.9 3190.7 945.9 3190.7C948.9 3190.7 950.6 3196.8 953.6 3195.9C956.6 3195.0 960.1 3188.5 964.0 3185.5C967.9 3182.5 973.1 3178.6 977.0 3177.7C980.9 3176.8 983.8 3181.0 987.3 3180.3C990.8 3179.7 994.7 3174.2 997.7 3173.8C1000.7 3173.4 1002.4 3175.3 1005.4 3177.7C1008.4 3180.1 1011.5 3184.1 1015.8 3188.0C1020.1 3191.9 1026.5 3199.3 1031.3 3201.0C1036.0 3202.7 1040.0 3198.0 1044.3 3198.4C1048.6 3198.8 1052.1 3202.3 1057.3 3203.6C1062.5 3204.9 1069.8 3204.0 1075.4 3206.2C1081.0 3208.4 1085.4 3214.2 1091.0 3216.6C1096.6 3219.0 1099.2 3219.5 1109.0 3220.5C1118.8 3221.5 1101.5 3221.8 1150.0 3222.5C1198.5 3223.2 1306.2 3223.8 1400.0 3224.4C1493.8 3225.0 1660.8 3225.7 1713.0 3226.0" fill="none" stroke="#0000ff" stroke-width="6.5" stroke-linejoin="round" stroke-linecap="round"/>
<path d="M317.0 3232.5C350.8 3232.5 482.0 3231.9 520.0 3232.5C558.0 3233.1 538.3 3234.8 545.0 3236.0C551.7 3237.2 553.2 3238.2 560.0 3240.0C566.8 3241.8 579.4 3244.6 585.9 3246.6C592.4 3248.6 595.0 3248.8 598.9 3251.8C602.8 3254.8 605.8 3263.5 609.2 3264.8C612.7 3266.1 615.3 3260.2 619.6 3259.6C623.9 3258.9 630.4 3260.0 635.1 3260.9C639.9 3261.8 644.2 3260.3 648.1 3264.8C652.0 3269.3 655.4 3280.7 658.4 3288.0C661.4 3295.3 663.4 3302.7 666.2 3308.8C669.0 3314.9 672.5 3324.4 675.3 3324.4C678.1 3324.4 681.0 3315.7 683.1 3308.8C685.2 3301.9 686.5 3289.8 688.2 3282.9C689.9 3276.0 691.2 3268.7 693.4 3267.4C695.6 3266.1 698.8 3274.2 701.2 3275.1C703.6 3275.9 706.2 3278.5 707.7 3272.5C709.2 3266.5 709.4 3251.0 710.3 3238.9C711.1 3226.8 711.8 3215.1 712.8 3200.0C713.8 3184.9 714.6 3165.6 716.0 3148.4C717.4 3131.2 719.5 3109.1 721.2 3096.6C722.9 3084.1 724.7 3078.5 726.4 3073.3C728.1 3068.1 730.1 3064.7 731.6 3065.5C733.1 3066.3 734.1 3071.1 735.4 3078.4C736.7 3085.7 737.6 3098.3 739.3 3109.5C741.0 3120.7 743.4 3135.4 745.8 3145.8C748.2 3156.2 750.6 3163.9 753.6 3171.7C756.6 3179.5 760.0 3186.8 763.9 3192.4C767.8 3198.0 772.1 3202.8 776.9 3205.4C781.6 3208.0 786.3 3207.1 792.4 3208.0C798.5 3208.9 807.6 3209.5 813.2 3210.6C818.8 3211.7 819.5 3213.4 826.0 3214.5C832.5 3215.6 843.0 3217.0 852.0 3217.0C861.0 3217.0 871.7 3214.8 880.0 3214.5C888.3 3214.2 896.0 3214.1 901.8 3215.3C907.6 3216.5 906.2 3219.9 914.8 3221.8C923.4 3223.8 934.2 3225.9 953.6 3227.0C973.0 3228.1 998.6 3227.4 1031.3 3228.2C1064.0 3229.0 1088.5 3231.1 1150.0 3232.0C1211.5 3232.9 1306.2 3233.2 1400.0 3233.4C1493.8 3233.6 1660.8 3233.1 1713.0 3233.0" fill="none" stroke="#00ffff" stroke-width="6.5" stroke-linejoin="round" stroke-linecap="round"/>
<text x="1581" y="164.5" class="r" font-size="76">(<tspan font-weight="bold" stroke="#fff" stroke-width="1.4">a</tspan>)</text>
<text x="1581" y="1485.5" class="r" font-size="76">(<tspan font-weight="bold" stroke="#fff" stroke-width="1.4">b</tspan>)</text>
<text x="1581" y="2787" class="r" font-size="76">(<tspan font-weight="bold" stroke="#fff" stroke-width="1.4">c</tspan>)</text>
<text transform="translate(89.5,659) rotate(-90)" text-anchor="middle" class="t" font-size="73">V</text>
<text transform="translate(86.5,1972) rotate(-90)" text-anchor="middle" class="t" font-size="70">S</text>
<text transform="translate(98,3394) rotate(-90)" class="d" font-size="69"><tspan font-family="Liberation Serif" stroke-width="0">χ</tspan> x 10<tspan font-size="41" dy="-35" stroke-width="1.2">-3</tspan></text>
<line x1="777" y1="2752.0" x2="913" y2="2752.0" stroke="#000000" stroke-width="7"/>
<text x="921" y="2770.0" class="r" font-size="51">Blank-PVA5</text>
<line x1="777" y1="2816.2" x2="913" y2="2816.2" stroke="#ff0000" stroke-width="7"/>
<text x="921" y="2834.2" class="r" font-size="51">PVA5-SFCO5</text>
<line x1="777" y1="2880.4" x2="913" y2="2880.4" stroke="#00ee00" stroke-width="7"/>
<text x="921" y="2898.4" class="r" font-size="51">PVA5-SFCO10</text>
<line x1="777" y1="2944.6" x2="913" y2="2944.6" stroke="#0000ff" stroke-width="7"/>
<text x="921" y="2962.6" class="r" font-size="51">PVA10-SFCO5</text>
<line x1="777" y1="3008.8" x2="913" y2="3008.8" stroke="#00ffff" stroke-width="7"/>
<text x="921" y="3026.8" class="r" font-size="51">PVA10-SFCO10</text>
</svg>
</body></html>
